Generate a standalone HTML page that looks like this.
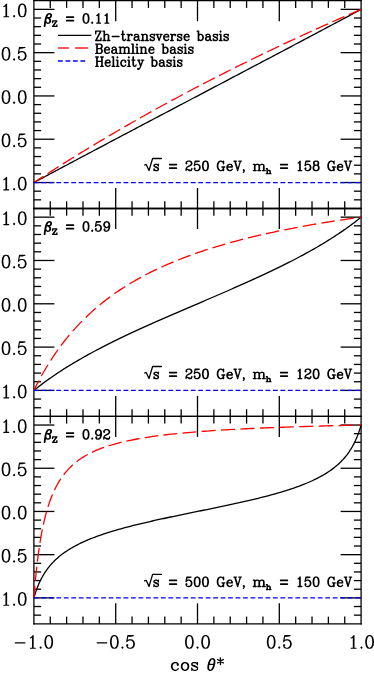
<!DOCTYPE html>
<html><head><meta charset="utf-8"><title>chart</title>
<style>html,body{margin:0;padding:0;background:#fff;font-family:"Liberation Sans",sans-serif;}svg{display:block}</style>
</head><body>
<svg width="374" height="674" viewBox="0 0 374 674">
<rect width="374" height="674" fill="#fff"/>
<line x1="33.25" y1="0.70" x2="361.75" y2="0.70" stroke="#000" stroke-width="1.3" />
<line x1="33.25" y1="208.50" x2="361.75" y2="208.50" stroke="#000" stroke-width="1.3" />
<line x1="33.25" y1="416.40" x2="361.75" y2="416.40" stroke="#000" stroke-width="1.3" />
<line x1="33.25" y1="623.80" x2="361.75" y2="623.80" stroke="#000" stroke-width="1.3" />
<line x1="33.25" y1="208.50" x2="361.75" y2="208.50" stroke="#000" stroke-width="1.3" />
<line x1="33.25" y1="416.40" x2="361.75" y2="416.40" stroke="#000" stroke-width="1.3" />
<line x1="33.90" y1="-0.30" x2="33.90" y2="624.45" stroke="#000" stroke-width="1.3" />
<line x1="361.10" y1="-0.30" x2="361.10" y2="624.45" stroke="#000" stroke-width="1.3" />
<line x1="50.26" y1="0.70" x2="50.26" y2="7.90" stroke="#000" stroke-width="1.3" />
<line x1="50.26" y1="201.30" x2="50.26" y2="215.70" stroke="#000" stroke-width="1.3" />
<line x1="50.26" y1="409.20" x2="50.26" y2="423.60" stroke="#000" stroke-width="1.3" />
<line x1="50.26" y1="616.60" x2="50.26" y2="623.80" stroke="#000" stroke-width="1.3" />
<line x1="66.62" y1="0.70" x2="66.62" y2="7.90" stroke="#000" stroke-width="1.3" />
<line x1="66.62" y1="201.30" x2="66.62" y2="215.70" stroke="#000" stroke-width="1.3" />
<line x1="66.62" y1="409.20" x2="66.62" y2="423.60" stroke="#000" stroke-width="1.3" />
<line x1="66.62" y1="616.60" x2="66.62" y2="623.80" stroke="#000" stroke-width="1.3" />
<line x1="82.98" y1="0.70" x2="82.98" y2="7.90" stroke="#000" stroke-width="1.3" />
<line x1="82.98" y1="201.30" x2="82.98" y2="215.70" stroke="#000" stroke-width="1.3" />
<line x1="82.98" y1="409.20" x2="82.98" y2="423.60" stroke="#000" stroke-width="1.3" />
<line x1="82.98" y1="616.60" x2="82.98" y2="623.80" stroke="#000" stroke-width="1.3" />
<line x1="99.34" y1="0.70" x2="99.34" y2="7.90" stroke="#000" stroke-width="1.3" />
<line x1="99.34" y1="201.30" x2="99.34" y2="215.70" stroke="#000" stroke-width="1.3" />
<line x1="99.34" y1="409.20" x2="99.34" y2="423.60" stroke="#000" stroke-width="1.3" />
<line x1="99.34" y1="616.60" x2="99.34" y2="623.80" stroke="#000" stroke-width="1.3" />
<line x1="115.70" y1="0.70" x2="115.70" y2="21.20" stroke="#000" stroke-width="1.3" />
<line x1="115.70" y1="188.00" x2="115.70" y2="229.00" stroke="#000" stroke-width="1.3" />
<line x1="115.70" y1="395.90" x2="115.70" y2="436.90" stroke="#000" stroke-width="1.3" />
<line x1="115.70" y1="603.30" x2="115.70" y2="623.80" stroke="#000" stroke-width="1.3" />
<line x1="132.06" y1="0.70" x2="132.06" y2="7.90" stroke="#000" stroke-width="1.3" />
<line x1="132.06" y1="201.30" x2="132.06" y2="215.70" stroke="#000" stroke-width="1.3" />
<line x1="132.06" y1="409.20" x2="132.06" y2="423.60" stroke="#000" stroke-width="1.3" />
<line x1="132.06" y1="616.60" x2="132.06" y2="623.80" stroke="#000" stroke-width="1.3" />
<line x1="148.42" y1="0.70" x2="148.42" y2="7.90" stroke="#000" stroke-width="1.3" />
<line x1="148.42" y1="201.30" x2="148.42" y2="215.70" stroke="#000" stroke-width="1.3" />
<line x1="148.42" y1="409.20" x2="148.42" y2="423.60" stroke="#000" stroke-width="1.3" />
<line x1="148.42" y1="616.60" x2="148.42" y2="623.80" stroke="#000" stroke-width="1.3" />
<line x1="164.78" y1="0.70" x2="164.78" y2="7.90" stroke="#000" stroke-width="1.3" />
<line x1="164.78" y1="201.30" x2="164.78" y2="215.70" stroke="#000" stroke-width="1.3" />
<line x1="164.78" y1="409.20" x2="164.78" y2="423.60" stroke="#000" stroke-width="1.3" />
<line x1="164.78" y1="616.60" x2="164.78" y2="623.80" stroke="#000" stroke-width="1.3" />
<line x1="181.14" y1="0.70" x2="181.14" y2="7.90" stroke="#000" stroke-width="1.3" />
<line x1="181.14" y1="201.30" x2="181.14" y2="215.70" stroke="#000" stroke-width="1.3" />
<line x1="181.14" y1="409.20" x2="181.14" y2="423.60" stroke="#000" stroke-width="1.3" />
<line x1="181.14" y1="616.60" x2="181.14" y2="623.80" stroke="#000" stroke-width="1.3" />
<line x1="197.50" y1="0.70" x2="197.50" y2="21.20" stroke="#000" stroke-width="1.3" />
<line x1="197.50" y1="188.00" x2="197.50" y2="229.00" stroke="#000" stroke-width="1.3" />
<line x1="197.50" y1="395.90" x2="197.50" y2="436.90" stroke="#000" stroke-width="1.3" />
<line x1="197.50" y1="603.30" x2="197.50" y2="623.80" stroke="#000" stroke-width="1.3" />
<line x1="213.86" y1="0.70" x2="213.86" y2="7.90" stroke="#000" stroke-width="1.3" />
<line x1="213.86" y1="201.30" x2="213.86" y2="215.70" stroke="#000" stroke-width="1.3" />
<line x1="213.86" y1="409.20" x2="213.86" y2="423.60" stroke="#000" stroke-width="1.3" />
<line x1="213.86" y1="616.60" x2="213.86" y2="623.80" stroke="#000" stroke-width="1.3" />
<line x1="230.22" y1="0.70" x2="230.22" y2="7.90" stroke="#000" stroke-width="1.3" />
<line x1="230.22" y1="201.30" x2="230.22" y2="215.70" stroke="#000" stroke-width="1.3" />
<line x1="230.22" y1="409.20" x2="230.22" y2="423.60" stroke="#000" stroke-width="1.3" />
<line x1="230.22" y1="616.60" x2="230.22" y2="623.80" stroke="#000" stroke-width="1.3" />
<line x1="246.58" y1="0.70" x2="246.58" y2="7.90" stroke="#000" stroke-width="1.3" />
<line x1="246.58" y1="201.30" x2="246.58" y2="215.70" stroke="#000" stroke-width="1.3" />
<line x1="246.58" y1="409.20" x2="246.58" y2="423.60" stroke="#000" stroke-width="1.3" />
<line x1="246.58" y1="616.60" x2="246.58" y2="623.80" stroke="#000" stroke-width="1.3" />
<line x1="262.94" y1="0.70" x2="262.94" y2="7.90" stroke="#000" stroke-width="1.3" />
<line x1="262.94" y1="201.30" x2="262.94" y2="215.70" stroke="#000" stroke-width="1.3" />
<line x1="262.94" y1="409.20" x2="262.94" y2="423.60" stroke="#000" stroke-width="1.3" />
<line x1="262.94" y1="616.60" x2="262.94" y2="623.80" stroke="#000" stroke-width="1.3" />
<line x1="279.30" y1="0.70" x2="279.30" y2="21.20" stroke="#000" stroke-width="1.3" />
<line x1="279.30" y1="188.00" x2="279.30" y2="229.00" stroke="#000" stroke-width="1.3" />
<line x1="279.30" y1="395.90" x2="279.30" y2="436.90" stroke="#000" stroke-width="1.3" />
<line x1="279.30" y1="603.30" x2="279.30" y2="623.80" stroke="#000" stroke-width="1.3" />
<line x1="295.66" y1="0.70" x2="295.66" y2="7.90" stroke="#000" stroke-width="1.3" />
<line x1="295.66" y1="201.30" x2="295.66" y2="215.70" stroke="#000" stroke-width="1.3" />
<line x1="295.66" y1="409.20" x2="295.66" y2="423.60" stroke="#000" stroke-width="1.3" />
<line x1="295.66" y1="616.60" x2="295.66" y2="623.80" stroke="#000" stroke-width="1.3" />
<line x1="312.02" y1="0.70" x2="312.02" y2="7.90" stroke="#000" stroke-width="1.3" />
<line x1="312.02" y1="201.30" x2="312.02" y2="215.70" stroke="#000" stroke-width="1.3" />
<line x1="312.02" y1="409.20" x2="312.02" y2="423.60" stroke="#000" stroke-width="1.3" />
<line x1="312.02" y1="616.60" x2="312.02" y2="623.80" stroke="#000" stroke-width="1.3" />
<line x1="328.38" y1="0.70" x2="328.38" y2="7.90" stroke="#000" stroke-width="1.3" />
<line x1="328.38" y1="201.30" x2="328.38" y2="215.70" stroke="#000" stroke-width="1.3" />
<line x1="328.38" y1="409.20" x2="328.38" y2="423.60" stroke="#000" stroke-width="1.3" />
<line x1="328.38" y1="616.60" x2="328.38" y2="623.80" stroke="#000" stroke-width="1.3" />
<line x1="344.74" y1="0.70" x2="344.74" y2="7.90" stroke="#000" stroke-width="1.3" />
<line x1="344.74" y1="201.30" x2="344.74" y2="215.70" stroke="#000" stroke-width="1.3" />
<line x1="344.74" y1="409.20" x2="344.74" y2="423.60" stroke="#000" stroke-width="1.3" />
<line x1="344.74" y1="616.60" x2="344.74" y2="623.80" stroke="#000" stroke-width="1.3" />
<line x1="33.90" y1="199.84" x2="41.10" y2="199.84" stroke="#000" stroke-width="1.3" />
<line x1="353.90" y1="199.84" x2="361.10" y2="199.84" stroke="#000" stroke-width="1.3" />
<line x1="33.90" y1="191.18" x2="41.10" y2="191.18" stroke="#000" stroke-width="1.3" />
<line x1="353.90" y1="191.18" x2="361.10" y2="191.18" stroke="#000" stroke-width="1.3" />
<line x1="33.90" y1="182.53" x2="54.40" y2="182.53" stroke="#000" stroke-width="1.3" />
<line x1="340.60" y1="182.53" x2="361.10" y2="182.53" stroke="#000" stroke-width="1.3" />
<line x1="33.90" y1="173.87" x2="41.10" y2="173.87" stroke="#000" stroke-width="1.3" />
<line x1="353.90" y1="173.87" x2="361.10" y2="173.87" stroke="#000" stroke-width="1.3" />
<line x1="33.90" y1="165.21" x2="41.10" y2="165.21" stroke="#000" stroke-width="1.3" />
<line x1="353.90" y1="165.21" x2="361.10" y2="165.21" stroke="#000" stroke-width="1.3" />
<line x1="33.90" y1="156.55" x2="41.10" y2="156.55" stroke="#000" stroke-width="1.3" />
<line x1="353.90" y1="156.55" x2="361.10" y2="156.55" stroke="#000" stroke-width="1.3" />
<line x1="33.90" y1="147.89" x2="41.10" y2="147.89" stroke="#000" stroke-width="1.3" />
<line x1="353.90" y1="147.89" x2="361.10" y2="147.89" stroke="#000" stroke-width="1.3" />
<line x1="33.90" y1="139.23" x2="54.40" y2="139.23" stroke="#000" stroke-width="1.3" />
<line x1="340.60" y1="139.23" x2="361.10" y2="139.23" stroke="#000" stroke-width="1.3" />
<line x1="33.90" y1="130.58" x2="41.10" y2="130.58" stroke="#000" stroke-width="1.3" />
<line x1="353.90" y1="130.58" x2="361.10" y2="130.58" stroke="#000" stroke-width="1.3" />
<line x1="33.90" y1="121.92" x2="41.10" y2="121.92" stroke="#000" stroke-width="1.3" />
<line x1="353.90" y1="121.92" x2="361.10" y2="121.92" stroke="#000" stroke-width="1.3" />
<line x1="33.90" y1="113.26" x2="41.10" y2="113.26" stroke="#000" stroke-width="1.3" />
<line x1="353.90" y1="113.26" x2="361.10" y2="113.26" stroke="#000" stroke-width="1.3" />
<line x1="33.90" y1="104.60" x2="41.10" y2="104.60" stroke="#000" stroke-width="1.3" />
<line x1="353.90" y1="104.60" x2="361.10" y2="104.60" stroke="#000" stroke-width="1.3" />
<line x1="33.90" y1="95.94" x2="54.40" y2="95.94" stroke="#000" stroke-width="1.3" />
<line x1="340.60" y1="95.94" x2="361.10" y2="95.94" stroke="#000" stroke-width="1.3" />
<line x1="33.90" y1="87.28" x2="41.10" y2="87.28" stroke="#000" stroke-width="1.3" />
<line x1="353.90" y1="87.28" x2="361.10" y2="87.28" stroke="#000" stroke-width="1.3" />
<line x1="33.90" y1="78.63" x2="41.10" y2="78.63" stroke="#000" stroke-width="1.3" />
<line x1="353.90" y1="78.63" x2="361.10" y2="78.63" stroke="#000" stroke-width="1.3" />
<line x1="33.90" y1="69.97" x2="41.10" y2="69.97" stroke="#000" stroke-width="1.3" />
<line x1="353.90" y1="69.97" x2="361.10" y2="69.97" stroke="#000" stroke-width="1.3" />
<line x1="33.90" y1="61.31" x2="41.10" y2="61.31" stroke="#000" stroke-width="1.3" />
<line x1="353.90" y1="61.31" x2="361.10" y2="61.31" stroke="#000" stroke-width="1.3" />
<line x1="33.90" y1="52.65" x2="54.40" y2="52.65" stroke="#000" stroke-width="1.3" />
<line x1="340.60" y1="52.65" x2="361.10" y2="52.65" stroke="#000" stroke-width="1.3" />
<line x1="33.90" y1="43.99" x2="41.10" y2="43.99" stroke="#000" stroke-width="1.3" />
<line x1="353.90" y1="43.99" x2="361.10" y2="43.99" stroke="#000" stroke-width="1.3" />
<line x1="33.90" y1="35.33" x2="41.10" y2="35.33" stroke="#000" stroke-width="1.3" />
<line x1="353.90" y1="35.33" x2="361.10" y2="35.33" stroke="#000" stroke-width="1.3" />
<line x1="33.90" y1="26.68" x2="41.10" y2="26.68" stroke="#000" stroke-width="1.3" />
<line x1="353.90" y1="26.68" x2="361.10" y2="26.68" stroke="#000" stroke-width="1.3" />
<line x1="33.90" y1="18.02" x2="41.10" y2="18.02" stroke="#000" stroke-width="1.3" />
<line x1="353.90" y1="18.02" x2="361.10" y2="18.02" stroke="#000" stroke-width="1.3" />
<line x1="33.90" y1="9.36" x2="54.40" y2="9.36" stroke="#000" stroke-width="1.3" />
<line x1="340.60" y1="9.36" x2="361.10" y2="9.36" stroke="#000" stroke-width="1.3" />
<line x1="33.90" y1="407.74" x2="41.10" y2="407.74" stroke="#000" stroke-width="1.3" />
<line x1="353.90" y1="407.74" x2="361.10" y2="407.74" stroke="#000" stroke-width="1.3" />
<line x1="33.90" y1="399.08" x2="41.10" y2="399.08" stroke="#000" stroke-width="1.3" />
<line x1="353.90" y1="399.08" x2="361.10" y2="399.08" stroke="#000" stroke-width="1.3" />
<line x1="33.90" y1="390.41" x2="54.40" y2="390.41" stroke="#000" stroke-width="1.3" />
<line x1="340.60" y1="390.41" x2="361.10" y2="390.41" stroke="#000" stroke-width="1.3" />
<line x1="33.90" y1="381.75" x2="41.10" y2="381.75" stroke="#000" stroke-width="1.3" />
<line x1="353.90" y1="381.75" x2="361.10" y2="381.75" stroke="#000" stroke-width="1.3" />
<line x1="33.90" y1="373.09" x2="41.10" y2="373.09" stroke="#000" stroke-width="1.3" />
<line x1="353.90" y1="373.09" x2="361.10" y2="373.09" stroke="#000" stroke-width="1.3" />
<line x1="33.90" y1="364.42" x2="41.10" y2="364.42" stroke="#000" stroke-width="1.3" />
<line x1="353.90" y1="364.42" x2="361.10" y2="364.42" stroke="#000" stroke-width="1.3" />
<line x1="33.90" y1="355.76" x2="41.10" y2="355.76" stroke="#000" stroke-width="1.3" />
<line x1="353.90" y1="355.76" x2="361.10" y2="355.76" stroke="#000" stroke-width="1.3" />
<line x1="33.90" y1="347.10" x2="54.40" y2="347.10" stroke="#000" stroke-width="1.3" />
<line x1="340.60" y1="347.10" x2="361.10" y2="347.10" stroke="#000" stroke-width="1.3" />
<line x1="33.90" y1="338.44" x2="41.10" y2="338.44" stroke="#000" stroke-width="1.3" />
<line x1="353.90" y1="338.44" x2="361.10" y2="338.44" stroke="#000" stroke-width="1.3" />
<line x1="33.90" y1="329.77" x2="41.10" y2="329.77" stroke="#000" stroke-width="1.3" />
<line x1="353.90" y1="329.77" x2="361.10" y2="329.77" stroke="#000" stroke-width="1.3" />
<line x1="33.90" y1="321.11" x2="41.10" y2="321.11" stroke="#000" stroke-width="1.3" />
<line x1="353.90" y1="321.11" x2="361.10" y2="321.11" stroke="#000" stroke-width="1.3" />
<line x1="33.90" y1="312.45" x2="41.10" y2="312.45" stroke="#000" stroke-width="1.3" />
<line x1="353.90" y1="312.45" x2="361.10" y2="312.45" stroke="#000" stroke-width="1.3" />
<line x1="33.90" y1="303.79" x2="54.40" y2="303.79" stroke="#000" stroke-width="1.3" />
<line x1="340.60" y1="303.79" x2="361.10" y2="303.79" stroke="#000" stroke-width="1.3" />
<line x1="33.90" y1="295.12" x2="41.10" y2="295.12" stroke="#000" stroke-width="1.3" />
<line x1="353.90" y1="295.12" x2="361.10" y2="295.12" stroke="#000" stroke-width="1.3" />
<line x1="33.90" y1="286.46" x2="41.10" y2="286.46" stroke="#000" stroke-width="1.3" />
<line x1="353.90" y1="286.46" x2="361.10" y2="286.46" stroke="#000" stroke-width="1.3" />
<line x1="33.90" y1="277.80" x2="41.10" y2="277.80" stroke="#000" stroke-width="1.3" />
<line x1="353.90" y1="277.80" x2="361.10" y2="277.80" stroke="#000" stroke-width="1.3" />
<line x1="33.90" y1="269.14" x2="41.10" y2="269.14" stroke="#000" stroke-width="1.3" />
<line x1="353.90" y1="269.14" x2="361.10" y2="269.14" stroke="#000" stroke-width="1.3" />
<line x1="33.90" y1="260.48" x2="54.40" y2="260.48" stroke="#000" stroke-width="1.3" />
<line x1="340.60" y1="260.48" x2="361.10" y2="260.48" stroke="#000" stroke-width="1.3" />
<line x1="33.90" y1="251.81" x2="41.10" y2="251.81" stroke="#000" stroke-width="1.3" />
<line x1="353.90" y1="251.81" x2="361.10" y2="251.81" stroke="#000" stroke-width="1.3" />
<line x1="33.90" y1="243.15" x2="41.10" y2="243.15" stroke="#000" stroke-width="1.3" />
<line x1="353.90" y1="243.15" x2="361.10" y2="243.15" stroke="#000" stroke-width="1.3" />
<line x1="33.90" y1="234.49" x2="41.10" y2="234.49" stroke="#000" stroke-width="1.3" />
<line x1="353.90" y1="234.49" x2="361.10" y2="234.49" stroke="#000" stroke-width="1.3" />
<line x1="33.90" y1="225.83" x2="41.10" y2="225.83" stroke="#000" stroke-width="1.3" />
<line x1="353.90" y1="225.83" x2="361.10" y2="225.83" stroke="#000" stroke-width="1.3" />
<line x1="33.90" y1="217.16" x2="54.40" y2="217.16" stroke="#000" stroke-width="1.3" />
<line x1="340.60" y1="217.16" x2="361.10" y2="217.16" stroke="#000" stroke-width="1.3" />
<line x1="33.90" y1="615.16" x2="41.10" y2="615.16" stroke="#000" stroke-width="1.3" />
<line x1="353.90" y1="615.16" x2="361.10" y2="615.16" stroke="#000" stroke-width="1.3" />
<line x1="33.90" y1="606.52" x2="41.10" y2="606.52" stroke="#000" stroke-width="1.3" />
<line x1="353.90" y1="606.52" x2="361.10" y2="606.52" stroke="#000" stroke-width="1.3" />
<line x1="33.90" y1="597.88" x2="54.40" y2="597.88" stroke="#000" stroke-width="1.3" />
<line x1="340.60" y1="597.88" x2="361.10" y2="597.88" stroke="#000" stroke-width="1.3" />
<line x1="33.90" y1="589.23" x2="41.10" y2="589.23" stroke="#000" stroke-width="1.3" />
<line x1="353.90" y1="589.23" x2="361.10" y2="589.23" stroke="#000" stroke-width="1.3" />
<line x1="33.90" y1="580.59" x2="41.10" y2="580.59" stroke="#000" stroke-width="1.3" />
<line x1="353.90" y1="580.59" x2="361.10" y2="580.59" stroke="#000" stroke-width="1.3" />
<line x1="33.90" y1="571.95" x2="41.10" y2="571.95" stroke="#000" stroke-width="1.3" />
<line x1="353.90" y1="571.95" x2="361.10" y2="571.95" stroke="#000" stroke-width="1.3" />
<line x1="33.90" y1="563.31" x2="41.10" y2="563.31" stroke="#000" stroke-width="1.3" />
<line x1="353.90" y1="563.31" x2="361.10" y2="563.31" stroke="#000" stroke-width="1.3" />
<line x1="33.90" y1="554.67" x2="54.40" y2="554.67" stroke="#000" stroke-width="1.3" />
<line x1="340.60" y1="554.67" x2="361.10" y2="554.67" stroke="#000" stroke-width="1.3" />
<line x1="33.90" y1="546.02" x2="41.10" y2="546.02" stroke="#000" stroke-width="1.3" />
<line x1="353.90" y1="546.02" x2="361.10" y2="546.02" stroke="#000" stroke-width="1.3" />
<line x1="33.90" y1="537.38" x2="41.10" y2="537.38" stroke="#000" stroke-width="1.3" />
<line x1="353.90" y1="537.38" x2="361.10" y2="537.38" stroke="#000" stroke-width="1.3" />
<line x1="33.90" y1="528.74" x2="41.10" y2="528.74" stroke="#000" stroke-width="1.3" />
<line x1="353.90" y1="528.74" x2="361.10" y2="528.74" stroke="#000" stroke-width="1.3" />
<line x1="33.90" y1="520.10" x2="41.10" y2="520.10" stroke="#000" stroke-width="1.3" />
<line x1="353.90" y1="520.10" x2="361.10" y2="520.10" stroke="#000" stroke-width="1.3" />
<line x1="33.90" y1="511.46" x2="54.40" y2="511.46" stroke="#000" stroke-width="1.3" />
<line x1="340.60" y1="511.46" x2="361.10" y2="511.46" stroke="#000" stroke-width="1.3" />
<line x1="33.90" y1="502.82" x2="41.10" y2="502.82" stroke="#000" stroke-width="1.3" />
<line x1="353.90" y1="502.82" x2="361.10" y2="502.82" stroke="#000" stroke-width="1.3" />
<line x1="33.90" y1="494.17" x2="41.10" y2="494.17" stroke="#000" stroke-width="1.3" />
<line x1="353.90" y1="494.17" x2="361.10" y2="494.17" stroke="#000" stroke-width="1.3" />
<line x1="33.90" y1="485.53" x2="41.10" y2="485.53" stroke="#000" stroke-width="1.3" />
<line x1="353.90" y1="485.53" x2="361.10" y2="485.53" stroke="#000" stroke-width="1.3" />
<line x1="33.90" y1="476.89" x2="41.10" y2="476.89" stroke="#000" stroke-width="1.3" />
<line x1="353.90" y1="476.89" x2="361.10" y2="476.89" stroke="#000" stroke-width="1.3" />
<line x1="33.90" y1="468.25" x2="54.40" y2="468.25" stroke="#000" stroke-width="1.3" />
<line x1="340.60" y1="468.25" x2="361.10" y2="468.25" stroke="#000" stroke-width="1.3" />
<line x1="33.90" y1="459.61" x2="41.10" y2="459.61" stroke="#000" stroke-width="1.3" />
<line x1="353.90" y1="459.61" x2="361.10" y2="459.61" stroke="#000" stroke-width="1.3" />
<line x1="33.90" y1="450.97" x2="41.10" y2="450.97" stroke="#000" stroke-width="1.3" />
<line x1="353.90" y1="450.97" x2="361.10" y2="450.97" stroke="#000" stroke-width="1.3" />
<line x1="33.90" y1="442.32" x2="41.10" y2="442.32" stroke="#000" stroke-width="1.3" />
<line x1="353.90" y1="442.32" x2="361.10" y2="442.32" stroke="#000" stroke-width="1.3" />
<line x1="33.90" y1="433.68" x2="41.10" y2="433.68" stroke="#000" stroke-width="1.3" />
<line x1="353.90" y1="433.68" x2="361.10" y2="433.68" stroke="#000" stroke-width="1.3" />
<line x1="33.90" y1="425.04" x2="54.40" y2="425.04" stroke="#000" stroke-width="1.3" />
<line x1="340.60" y1="425.04" x2="361.10" y2="425.04" stroke="#000" stroke-width="1.3" />
<path d="M33.90,182.53 L33.92,182.52 L33.97,182.49 L34.05,182.44 L34.17,182.38 L34.32,182.30 L34.51,182.20 L34.72,182.08 L34.98,181.95 L35.26,181.80 L35.58,181.63 L35.93,181.44 L36.32,181.23 L36.74,181.01 L37.19,180.77 L37.67,180.51 L38.19,180.23 L38.74,179.94 L39.32,179.62 L39.94,179.29 L40.59,178.95 L41.27,178.58 L41.98,178.20 L42.72,177.81 L43.50,177.39 L44.31,176.96 L45.15,176.51 L46.02,176.05 L46.92,175.57 L47.85,175.07 L48.82,174.55 L49.81,174.02 L50.84,173.48 L51.89,172.91 L52.98,172.33 L54.09,171.74 L55.24,171.13 L56.41,170.50 L57.61,169.86 L58.84,169.21 L60.10,168.54 L61.39,167.85 L62.71,167.15 L64.05,166.44 L65.42,165.71 L66.82,164.96 L68.25,164.20 L69.70,163.43 L71.18,162.65 L72.68,161.85 L74.21,161.03 L75.76,160.21 L77.34,159.37 L78.95,158.52 L80.58,157.65 L82.23,156.77 L83.91,155.88 L85.61,154.98 L87.33,154.07 L89.08,153.14 L90.85,152.20 L92.64,151.25 L94.45,150.29 L96.29,149.32 L98.14,148.34 L100.01,147.35 L101.91,146.35 L103.82,145.33 L105.76,144.31 L107.71,143.28 L109.68,142.23 L111.67,141.18 L113.68,140.12 L115.70,139.05 L117.74,137.97 L119.80,136.89 L121.87,135.79 L123.96,134.69 L126.06,133.58 L128.18,132.46 L130.32,131.33 L132.46,130.20 L134.62,129.06 L136.80,127.91 L138.98,126.76 L141.18,125.60 L143.39,124.44 L145.61,123.27 L147.84,122.09 L150.08,120.91 L152.33,119.72 L154.59,118.53 L156.86,117.34 L159.14,116.14 L161.42,114.93 L163.72,113.73 L166.01,112.51 L168.32,111.30 L170.63,110.08 L172.95,108.86 L175.27,107.64 L177.60,106.41 L179.93,105.19 L182.27,103.96 L184.61,102.73 L186.95,101.50 L189.29,100.26 L191.63,99.03 L193.98,97.79 L196.33,96.56 L198.67,95.32 L201.02,94.09 L203.37,92.85 L205.71,91.62 L208.05,90.39 L210.39,89.16 L212.73,87.92 L215.07,86.70 L217.40,85.47 L219.73,84.24 L222.05,83.02 L224.37,81.80 L226.68,80.58 L228.99,79.37 L231.28,78.16 L233.58,76.95 L235.86,75.75 L238.14,74.55 L240.41,73.35 L242.67,72.16 L244.92,70.97 L247.16,69.79 L249.39,68.62 L251.61,67.45 L253.82,66.28 L256.02,65.12 L258.20,63.97 L260.38,62.82 L262.54,61.68 L264.68,60.55 L266.82,59.42 L268.94,58.31 L271.04,57.20 L273.13,56.09 L275.20,55.00 L277.26,53.91 L279.30,52.83 L281.32,51.76 L283.33,50.70 L285.32,49.65 L287.29,48.61 L289.24,47.57 L291.18,46.55 L293.09,45.54 L294.99,44.54 L296.86,43.54 L298.71,42.56 L300.55,41.59 L302.36,40.63 L304.15,39.68 L305.92,38.74 L307.67,37.82 L309.39,36.90 L311.09,36.00 L312.77,35.11 L314.42,34.23 L316.05,33.37 L317.66,32.52 L319.24,31.68 L320.79,30.85 L322.32,30.04 L323.82,29.24 L325.30,28.45 L326.75,27.68 L328.18,26.92 L329.58,26.18 L330.95,25.45 L332.29,24.73 L333.61,24.03 L334.90,23.35 L336.16,22.68 L337.39,22.02 L338.59,21.38 L339.76,20.75 L340.91,20.14 L342.02,19.55 L343.11,18.97 L344.16,18.41 L345.19,17.86 L346.18,17.33 L347.15,16.82 L348.08,16.32 L348.98,15.84 L349.85,15.37 L350.69,14.92 L351.50,14.49 L352.28,14.08 L353.02,13.68 L353.73,13.30 L354.41,12.93 L355.06,12.59 L355.68,12.26 L356.26,11.95 L356.81,11.65 L357.33,11.38 L357.81,11.12 L358.26,10.88 L358.68,10.65 L359.07,10.45 L359.42,10.26 L359.74,10.09 L360.02,9.93 L360.28,9.80 L360.49,9.68 L360.68,9.58 L360.83,9.50 L360.95,9.44 L361.03,9.39 L361.08,9.37 L361.10,9.36" fill="none" stroke="#000" stroke-width="1.3" stroke-linejoin="round"/>
<path d="M33.90,182.53 L35.80,181.29 L37.69,180.05 L39.59,178.82 L41.49,177.59 L43.39,176.36 M47.51,173.70 L49.73,172.29 L51.94,170.87 L54.15,169.46 L56.37,168.06 L58.59,166.65 M62.73,164.04 L64.96,162.65 L67.18,161.26 L69.41,159.87 L71.64,158.49 L73.87,157.11 M78.03,154.54 L80.27,153.17 L82.50,151.80 L84.74,150.44 L86.98,149.08 L89.22,147.72 M93.41,145.19 L95.66,143.85 L97.90,142.50 L100.15,141.16 L102.40,139.82 L104.65,138.48 M108.86,136.00 L111.12,134.67 L113.38,133.35 L115.64,132.03 L117.90,130.71 L120.16,129.40 M124.39,126.95 L126.66,125.65 L128.93,124.35 L131.20,123.05 L133.47,121.75 L135.74,120.46 M139.99,118.05 L142.27,116.77 L144.55,115.49 L146.83,114.21 L149.11,112.94 L151.39,111.66 M155.66,109.30 L157.95,108.04 L160.24,106.78 L162.53,105.52 L164.82,104.26 L167.12,103.01 M171.41,100.69 L173.70,99.44 L176.00,98.20 L178.31,96.97 L180.61,95.73 L182.91,94.50 M187.22,92.21 L189.53,90.99 L191.84,89.77 L194.15,88.55 L196.46,87.34 L198.78,86.13 M203.10,83.87 L205.42,82.67 L207.74,81.47 L210.06,80.27 L212.38,79.08 L214.71,77.89 M219.05,75.67 L221.38,74.49 L223.71,73.31 L226.04,72.13 L228.37,70.96 L230.70,69.78 M235.06,67.60 L237.40,66.44 L239.74,65.28 L242.08,64.12 L244.42,62.96 L246.77,61.81 M251.14,59.66 L253.49,58.52 L255.84,57.37 L258.19,56.23 L260.54,55.09 L262.89,53.96 M267.29,51.85 L269.64,50.72 L272.00,49.60 L274.36,48.47 L276.72,47.35 L279.08,46.24 M283.49,44.16 L285.86,43.05 L288.22,41.94 L290.59,40.84 L292.96,39.74 L295.33,38.64 M299.76,36.59 L302.13,35.50 L304.51,34.41 L306.89,33.33 L309.26,32.24 L311.64,31.16 M316.09,29.15 L318.47,28.07 L320.85,27.00 L323.24,25.93 L325.63,24.87 L328.01,23.80 M332.47,21.82 L334.86,20.76 L337.26,19.71 L339.65,18.66 L342.05,17.61 L344.44,16.56 M348.92,14.61 L351.32,13.57 L353.72,12.53 L356.12,11.50 L358.52,10.46 L360.93,9.43" fill="none" stroke="#f00" stroke-width="1.3" stroke-linejoin="round"/>
<path d="M33.90,390.41 L33.92,390.40 L33.97,390.36 L34.05,390.29 L34.17,390.19 L34.32,390.07 L34.51,389.92 L34.72,389.75 L34.98,389.54 L35.26,389.32 L35.58,389.06 L35.93,388.78 L36.32,388.47 L36.74,388.14 L37.19,387.79 L37.67,387.41 L38.19,387.00 L38.74,386.58 L39.32,386.13 L39.94,385.65 L40.59,385.16 L41.27,384.64 L41.98,384.11 L42.72,383.55 L43.50,382.97 L44.31,382.37 L45.15,381.75 L46.02,381.12 L46.92,380.47 L47.85,379.80 L48.82,379.11 L49.81,378.41 L50.84,377.69 L51.89,376.95 L52.98,376.21 L54.09,375.44 L55.24,374.67 L56.41,373.88 L57.61,373.08 L58.84,372.26 L60.10,371.44 L61.39,370.60 L62.71,369.76 L64.05,368.90 L65.42,368.03 L66.82,367.16 L68.25,366.28 L69.70,365.38 L71.18,364.48 L72.68,363.58 L74.21,362.66 L75.76,361.74 L77.34,360.82 L78.95,359.88 L80.58,358.94 L82.23,358.00 L83.91,357.05 L85.61,356.10 L87.33,355.14 L89.08,354.18 L90.85,353.21 L92.64,352.24 L94.45,351.27 L96.29,350.30 L98.14,349.32 L100.01,348.34 L101.91,347.35 L103.82,346.37 L105.76,345.38 L107.71,344.39 L109.68,343.40 L111.67,342.41 L113.68,341.41 L115.70,340.42 L117.74,339.42 L119.80,338.42 L121.87,337.42 L123.96,336.42 L126.06,335.42 L128.18,334.42 L130.32,333.42 L132.46,332.41 L134.62,331.41 L136.80,330.41 L138.98,329.40 L141.18,328.40 L143.39,327.40 L145.61,326.39 L147.84,325.39 L150.08,324.38 L152.33,323.38 L154.59,322.37 L156.86,321.37 L159.14,320.36 L161.42,319.36 L163.72,318.35 L166.01,317.35 L168.32,316.34 L170.63,315.34 L172.95,314.33 L175.27,313.33 L177.60,312.32 L179.93,311.32 L182.27,310.32 L184.61,309.31 L186.95,308.31 L189.29,307.30 L191.63,306.30 L193.98,305.29 L196.33,304.29 L198.67,303.29 L201.02,302.28 L203.37,301.28 L205.71,300.27 L208.05,299.27 L210.39,298.26 L212.73,297.26 L215.07,296.25 L217.40,295.25 L219.73,294.25 L222.05,293.24 L224.37,292.24 L226.68,291.23 L228.99,290.23 L231.28,289.22 L233.58,288.22 L235.86,287.21 L238.14,286.21 L240.41,285.20 L242.67,284.20 L244.92,283.19 L247.16,282.19 L249.39,281.18 L251.61,280.18 L253.82,279.18 L256.02,278.17 L258.20,277.17 L260.38,276.16 L262.54,275.16 L264.68,274.16 L266.82,273.16 L268.94,272.15 L271.04,271.15 L273.13,270.15 L275.20,269.15 L277.26,268.16 L279.30,267.16 L281.32,266.16 L283.33,265.17 L285.32,264.18 L287.29,263.18 L289.24,262.19 L291.18,261.21 L293.09,260.22 L294.99,259.24 L296.86,258.26 L298.71,257.28 L300.55,256.30 L302.36,255.33 L304.15,254.36 L305.92,253.40 L307.67,252.43 L309.39,251.48 L311.09,250.52 L312.77,249.57 L314.42,248.63 L316.05,247.69 L317.66,246.76 L319.24,245.83 L320.79,244.91 L322.32,244.00 L323.82,243.09 L325.30,242.19 L326.75,241.30 L328.18,240.42 L329.58,239.54 L330.95,238.68 L332.29,237.82 L333.61,236.97 L334.90,236.14 L336.16,235.31 L337.39,234.50 L338.59,233.70 L339.76,232.91 L340.91,232.13 L342.02,231.37 L343.11,230.62 L344.16,229.89 L345.19,229.17 L346.18,228.47 L347.15,227.78 L348.08,227.11 L348.98,226.46 L349.85,225.82 L350.69,225.20 L351.50,224.61 L352.28,224.03 L353.02,223.47 L353.73,222.93 L354.41,222.42 L355.06,221.92 L355.68,221.45 L356.26,221.00 L356.81,220.57 L357.33,220.17 L357.81,219.79 L358.26,219.43 L358.68,219.10 L359.07,218.79 L359.42,218.51 L359.74,218.26 L360.02,218.03 L360.28,217.83 L360.49,217.65 L360.68,217.50 L360.83,217.38 L360.95,217.29 L361.03,217.22 L361.08,217.18 L361.10,217.16" fill="none" stroke="#000" stroke-width="1.3" stroke-linejoin="round"/>
<path d="M33.90,390.41 L34.89,388.41 L35.89,386.41 L36.91,384.42 L37.94,382.43 L38.98,380.45 M41.38,376.05 L42.65,373.77 L43.95,371.50 L45.27,369.24 L46.62,366.99 L47.98,364.75 M50.66,360.49 L52.09,358.29 L53.55,356.10 L55.03,353.92 L56.53,351.75 L58.06,349.59 M61.07,345.50 L62.67,343.38 L64.30,341.27 L65.96,339.18 L67.64,337.10 L69.35,335.04 M72.72,331.12 L74.51,329.10 L76.33,327.09 L78.19,325.10 L80.07,323.12 L81.99,321.16 M85.73,317.45 L87.70,315.56 L89.69,313.70 L91.70,311.87 L93.72,310.07 L95.75,308.30 M99.69,304.98 L101.77,303.29 L103.86,301.62 L105.96,299.99 L108.07,298.38 L110.20,296.80 M114.32,293.83 L116.49,292.32 L118.66,290.84 L120.85,289.38 L123.06,287.94 L125.27,286.53 M129.55,283.88 L131.79,282.53 L134.05,281.21 L136.32,279.91 L138.60,278.62 L140.89,277.36 M145.30,275.00 L147.62,273.79 L149.95,272.61 L152.29,271.45 L154.63,270.30 L156.99,269.17 M161.53,267.06 L163.92,265.98 L166.31,264.92 L168.70,263.88 L171.11,262.85 L173.53,261.84 M178.18,259.95 L180.62,258.99 L183.06,258.04 L185.52,257.10 L187.98,256.18 L190.44,255.27 M195.19,253.57 L197.68,252.71 L200.17,251.85 L202.67,251.01 L205.18,250.19 L207.69,249.37 M212.53,247.84 L215.05,247.06 L217.59,246.29 L220.13,245.53 L222.68,244.79 L225.23,244.05 M230.14,242.67 L232.71,241.96 L235.28,241.27 L237.86,240.58 L240.44,239.91 L243.03,239.24 M248.00,237.99 L250.60,237.35 L253.21,236.72 L255.82,236.10 L258.43,235.49 L261.05,234.88 M266.08,233.75 L268.71,233.17 L271.34,232.60 L273.98,232.03 L276.62,231.47 L279.27,230.92 M284.35,229.89 L287.00,229.36 L289.66,228.84 L292.33,228.32 L294.99,227.81 L297.66,227.31 M302.79,226.37 L305.47,225.88 L308.15,225.40 L310.83,224.93 L313.52,224.47 L316.21,224.01 M321.38,223.14 L324.07,222.70 L326.78,222.26 L329.48,221.83 L332.19,221.40 L334.89,220.98 M340.10,220.18 L342.81,219.78 L345.53,219.37 L348.25,218.98 L350.98,218.58 L353.70,218.19 M358.94,217.46 L361.10,217.16" fill="none" stroke="#f00" stroke-width="1.3" stroke-linejoin="round"/>
<path d="M33.90,597.88 L33.92,597.82 L33.97,597.64 L34.05,597.34 L34.17,596.94 L34.32,596.42 L34.51,595.80 L34.72,595.08 L34.98,594.27 L35.26,593.38 L35.58,592.41 L35.93,591.37 L36.32,590.27 L36.74,589.12 L37.19,587.92 L37.67,586.68 L38.19,585.42 L38.74,584.12 L39.32,582.81 L39.94,581.49 L40.59,580.15 L41.27,578.82 L41.98,577.48 L42.72,576.14 L43.50,574.82 L44.31,573.50 L45.15,572.19 L46.02,570.90 L46.92,569.62 L47.85,568.36 L48.82,567.12 L49.81,565.90 L50.84,564.70 L51.89,563.51 L52.98,562.35 L54.09,561.21 L55.24,560.09 L56.41,558.99 L57.61,557.91 L58.84,556.85 L60.10,555.81 L61.39,554.80 L62.71,553.80 L64.05,552.82 L65.42,551.86 L66.82,550.92 L68.25,549.99 L69.70,549.09 L71.18,548.20 L72.68,547.33 L74.21,546.47 L75.76,545.63 L77.34,544.81 L78.95,544.00 L80.58,543.20 L82.23,542.42 L83.91,541.66 L85.61,540.90 L87.33,540.16 L89.08,539.43 L90.85,538.71 L92.64,538.00 L94.45,537.31 L96.29,536.62 L98.14,535.95 L100.01,535.28 L101.91,534.63 L103.82,533.98 L105.76,533.35 L107.71,532.72 L109.68,532.10 L111.67,531.48 L113.68,530.88 L115.70,530.28 L117.74,529.69 L119.80,529.11 L121.87,528.53 L123.96,527.96 L126.06,527.39 L128.18,526.84 L130.32,526.28 L132.46,525.73 L134.62,525.19 L136.80,524.65 L138.98,524.12 L141.18,523.59 L143.39,523.06 L145.61,522.54 L147.84,522.02 L150.08,521.51 L152.33,521.00 L154.59,520.49 L156.86,519.98 L159.14,519.48 L161.42,518.98 L163.72,518.49 L166.01,517.99 L168.32,517.50 L170.63,517.01 L172.95,516.52 L175.27,516.03 L177.60,515.55 L179.93,515.06 L182.27,514.58 L184.61,514.10 L186.95,513.62 L189.29,513.14 L191.63,512.66 L193.98,512.18 L196.33,511.70 L198.67,511.22 L201.02,510.74 L203.37,510.26 L205.71,509.78 L208.05,509.30 L210.39,508.82 L212.73,508.34 L215.07,507.85 L217.40,507.37 L219.73,506.88 L222.05,506.40 L224.37,505.91 L226.68,505.42 L228.99,504.93 L231.28,504.43 L233.58,503.93 L235.86,503.44 L238.14,502.93 L240.41,502.43 L242.67,501.92 L244.92,501.41 L247.16,500.90 L249.39,500.38 L251.61,499.86 L253.82,499.33 L256.02,498.80 L258.20,498.27 L260.38,497.73 L262.54,497.18 L264.68,496.64 L266.82,496.08 L268.94,495.52 L271.04,494.96 L273.13,494.39 L275.20,493.81 L277.26,493.22 L279.30,492.63 L281.32,492.04 L283.33,491.43 L285.32,490.82 L287.29,490.20 L289.24,489.57 L291.18,488.93 L293.09,488.29 L294.99,487.63 L296.86,486.97 L298.71,486.29 L300.55,485.61 L302.36,484.91 L304.15,484.21 L305.92,483.49 L307.67,482.76 L309.39,482.02 L311.09,481.26 L312.77,480.49 L314.42,479.71 L316.05,478.92 L317.66,478.11 L319.24,477.28 L320.79,476.44 L322.32,475.59 L323.82,474.72 L325.30,473.83 L326.75,472.92 L328.18,472.00 L329.58,471.06 L330.95,470.10 L332.29,469.12 L333.61,468.12 L334.90,467.10 L336.16,466.06 L337.39,465.01 L338.59,463.93 L339.76,462.83 L340.91,461.71 L342.02,460.56 L343.11,459.40 L344.16,458.22 L345.19,457.02 L346.18,455.79 L347.15,454.55 L348.08,453.29 L348.98,452.02 L349.85,450.72 L350.69,449.42 L351.50,448.10 L352.28,446.77 L353.02,445.44 L353.73,444.10 L354.41,442.76 L355.06,441.43 L355.68,440.10 L356.26,438.79 L356.81,437.50 L357.33,436.23 L357.81,435.00 L358.26,433.80 L358.68,432.65 L359.07,431.55 L359.42,430.51 L359.74,429.54 L360.02,428.64 L360.28,427.84 L360.49,427.12 L360.68,426.50 L360.83,425.98 L360.95,425.57 L361.03,425.28 L361.08,425.10 L361.10,425.04" fill="none" stroke="#000" stroke-width="1.3" stroke-linejoin="round"/>
<path d="M33.90,597.88 L34.09,595.45 L34.28,593.03 L34.48,590.61 L34.68,588.19 L34.89,585.77 M35.36,580.61 L35.63,577.82 L35.90,575.04 L36.19,572.26 L36.48,569.49 L36.78,566.72 M37.38,561.61 L37.71,558.86 L38.06,556.12 L38.42,553.38 L38.80,550.65 L39.19,547.92 M39.96,542.90 L40.40,540.20 L40.85,537.51 L41.33,534.83 L41.82,532.16 L42.34,529.49 M43.36,524.60 L43.94,521.98 L44.56,519.36 L45.20,516.76 L45.87,514.18 L46.57,511.61 M47.97,506.91 L48.78,504.39 L49.63,501.90 L50.52,499.43 L51.46,496.98 L52.45,494.55 M54.43,490.14 L55.58,487.79 L56.79,485.48 L58.07,483.20 L59.41,480.95 L60.84,478.74 M63.68,474.77 L65.34,472.67 L67.09,470.63 L68.93,468.63 L70.87,466.69 L72.87,464.84 M76.68,461.67 L78.80,460.08 L80.97,458.57 L83.18,457.14 L85.42,455.79 L87.70,454.51 M92.00,452.31 L94.37,451.21 L96.77,450.16 L99.19,449.17 L101.64,448.22 L104.11,447.33 M108.74,445.78 L111.27,445.00 L113.82,444.26 L116.39,443.56 L118.97,442.88 L121.57,442.24 M126.41,441.12 L129.05,440.56 L131.70,440.02 L134.36,439.50 L137.03,439.00 L139.71,438.53 M144.69,437.69 L147.40,437.27 L150.12,436.86 L152.84,436.47 L155.57,436.09 L158.31,435.73 M163.39,435.09 L166.15,434.77 L168.91,434.45 L171.68,434.15 L174.45,433.85 L177.23,433.57 M182.38,433.06 L185.17,432.81 L187.96,432.56 L190.76,432.31 L193.57,432.08 L196.37,431.85 M201.57,431.45 L204.39,431.24 L207.20,431.03 L210.03,430.84 L212.85,430.64 L215.68,430.46 M220.91,430.13 L223.74,429.96 L226.58,429.79 L229.42,429.62 L232.26,429.47 L235.10,429.31 M240.36,429.03 L243.21,428.89 L246.06,428.75 L248.91,428.61 L251.77,428.48 L254.62,428.35 M259.90,428.12 L262.76,427.99 L265.62,427.87 L268.49,427.76 L271.35,427.64 L274.21,427.53 M279.51,427.33 L282.38,427.23 L285.25,427.13 L288.12,427.03 L290.99,426.93 L293.86,426.83 M299.18,426.66 L302.05,426.57 L304.93,426.48 L307.80,426.39 L310.68,426.31 L313.56,426.22 M318.88,426.07 L321.76,425.99 L324.64,425.91 L327.53,425.84 L330.41,425.76 L333.29,425.69 M338.62,425.56 L341.51,425.49 L344.40,425.42 L347.28,425.35 L350.17,425.28 L353.06,425.22 M358.40,425.10 L361.10,425.04" fill="none" stroke="#f00" stroke-width="1.3" stroke-linejoin="round"/>
<line x1="33.90" y1="182.53" x2="361.10" y2="182.53" stroke="#00f" stroke-width="1.3" stroke-dasharray="4.8 2.67" stroke-dashoffset="0"/>
<line x1="33.90" y1="390.41" x2="361.10" y2="390.41" stroke="#00f" stroke-width="1.3" stroke-dasharray="4.8 2.67" stroke-dashoffset="0"/>
<line x1="33.90" y1="597.88" x2="361.10" y2="597.88" stroke="#00f" stroke-width="1.3" stroke-dasharray="4.8 2.67" stroke-dashoffset="0"/>
<line x1="58.00" y1="35.40" x2="91.30" y2="35.40" stroke="#000" stroke-width="1.3" />
<line x1="58.00" y1="48.00" x2="68.90" y2="48.00" stroke="#f00" stroke-width="1.3" />
<line x1="75.00" y1="48.00" x2="88.00" y2="48.00" stroke="#f00" stroke-width="1.3" />
<line x1="58" y1="61" x2="86.2" y2="61" stroke="#00f" stroke-width="1.3" stroke-dasharray="4.8 2.67"/>
<path d="M15.27,642.80 L24.99,642.80 M30.39,638.00 L31.47,637.40 L33.09,635.60 L33.09,648.20 M32.55,636.20 L32.55,648.20 M30.39,648.20 L35.25,648.20 M40.65,647.00 L40.11,647.60 L40.65,648.20 L41.19,647.60 L40.65,647.00 M48.21,635.60 L46.59,636.20 L45.51,638.00 L44.97,641.00 L44.97,642.80 L45.51,645.80 L46.59,647.60 L48.21,648.20 L49.29,648.20 L50.91,647.60 L51.99,645.80 L52.53,642.80 L52.53,641.00 L51.99,638.00 L50.91,636.20 L49.29,635.60 L48.21,635.60 M48.21,635.60 L47.13,636.20 L46.59,636.80 L46.05,638.00 L45.51,641.00 L45.51,642.80 L46.05,645.80 L46.59,647.00 L47.13,647.60 L48.21,648.20 M49.29,648.20 L50.37,647.60 L50.91,647.00 L51.45,645.80 L51.99,642.80 L51.99,641.00 L51.45,638.00 L50.91,636.80 L50.37,636.20 L49.29,635.60" fill="none" stroke="#000" stroke-width="1.15" stroke-linecap="round" stroke-linejoin="round"/>
<path d="M97.07,642.80 L106.79,642.80 M113.81,635.60 L112.19,636.20 L111.11,638.00 L110.57,641.00 L110.57,642.80 L111.11,645.80 L112.19,647.60 L113.81,648.20 L114.89,648.20 L116.51,647.60 L117.59,645.80 L118.13,642.80 L118.13,641.00 L117.59,638.00 L116.51,636.20 L114.89,635.60 L113.81,635.60 M113.81,635.60 L112.73,636.20 L112.19,636.80 L111.65,638.00 L111.11,641.00 L111.11,642.80 L111.65,645.80 L112.19,647.00 L112.73,647.60 L113.81,648.20 M114.89,648.20 L115.97,647.60 L116.51,647.00 L117.05,645.80 L117.59,642.80 L117.59,641.00 L117.05,638.00 L116.51,636.80 L115.97,636.20 L114.89,635.60 M122.45,647.00 L121.91,647.60 L122.45,648.20 L122.99,647.60 L122.45,647.00 M127.85,635.60 L126.77,641.60 M126.77,641.60 L127.85,640.40 L129.47,639.80 L131.09,639.80 L132.71,640.40 L133.79,641.60 L134.33,643.40 L134.33,644.60 L133.79,646.40 L132.71,647.60 L131.09,648.20 L129.47,648.20 L127.85,647.60 L127.31,647.00 L126.77,645.80 L126.77,645.20 L127.31,644.60 L127.85,645.20 L127.31,645.80 M131.09,639.80 L132.17,640.40 L133.25,641.60 L133.79,643.40 L133.79,644.60 L133.25,646.40 L132.17,647.60 L131.09,648.20 M127.85,635.60 L133.25,635.60 M127.85,636.20 L130.55,636.20 L133.25,635.60" fill="none" stroke="#000" stroke-width="1.15" stroke-linecap="round" stroke-linejoin="round"/>
<path d="M188.86,635.60 L187.24,636.20 L186.16,638.00 L185.62,641.00 L185.62,642.80 L186.16,645.80 L187.24,647.60 L188.86,648.20 L189.94,648.20 L191.56,647.60 L192.64,645.80 L193.18,642.80 L193.18,641.00 L192.64,638.00 L191.56,636.20 L189.94,635.60 L188.86,635.60 M188.86,635.60 L187.78,636.20 L187.24,636.80 L186.70,638.00 L186.16,641.00 L186.16,642.80 L186.70,645.80 L187.24,647.00 L187.78,647.60 L188.86,648.20 M189.94,648.20 L191.02,647.60 L191.56,647.00 L192.10,645.80 L192.64,642.80 L192.64,641.00 L192.10,638.00 L191.56,636.80 L191.02,636.20 L189.94,635.60 M197.50,647.00 L196.96,647.60 L197.50,648.20 L198.04,647.60 L197.50,647.00 M205.06,635.60 L203.44,636.20 L202.36,638.00 L201.82,641.00 L201.82,642.80 L202.36,645.80 L203.44,647.60 L205.06,648.20 L206.14,648.20 L207.76,647.60 L208.84,645.80 L209.38,642.80 L209.38,641.00 L208.84,638.00 L207.76,636.20 L206.14,635.60 L205.06,635.60 M205.06,635.60 L203.98,636.20 L203.44,636.80 L202.90,638.00 L202.36,641.00 L202.36,642.80 L202.90,645.80 L203.44,647.00 L203.98,647.60 L205.06,648.20 M206.14,648.20 L207.22,647.60 L207.76,647.00 L208.30,645.80 L208.84,642.80 L208.84,641.00 L208.30,638.00 L207.76,636.80 L207.22,636.20 L206.14,635.60" fill="none" stroke="#000" stroke-width="1.15" stroke-linecap="round" stroke-linejoin="round"/>
<path d="M270.66,635.60 L269.04,636.20 L267.96,638.00 L267.42,641.00 L267.42,642.80 L267.96,645.80 L269.04,647.60 L270.66,648.20 L271.74,648.20 L273.36,647.60 L274.44,645.80 L274.98,642.80 L274.98,641.00 L274.44,638.00 L273.36,636.20 L271.74,635.60 L270.66,635.60 M270.66,635.60 L269.58,636.20 L269.04,636.80 L268.50,638.00 L267.96,641.00 L267.96,642.80 L268.50,645.80 L269.04,647.00 L269.58,647.60 L270.66,648.20 M271.74,648.20 L272.82,647.60 L273.36,647.00 L273.90,645.80 L274.44,642.80 L274.44,641.00 L273.90,638.00 L273.36,636.80 L272.82,636.20 L271.74,635.60 M279.30,647.00 L278.76,647.60 L279.30,648.20 L279.84,647.60 L279.30,647.00 M284.70,635.60 L283.62,641.60 M283.62,641.60 L284.70,640.40 L286.32,639.80 L287.94,639.80 L289.56,640.40 L290.64,641.60 L291.18,643.40 L291.18,644.60 L290.64,646.40 L289.56,647.60 L287.94,648.20 L286.32,648.20 L284.70,647.60 L284.16,647.00 L283.62,645.80 L283.62,645.20 L284.16,644.60 L284.70,645.20 L284.16,645.80 M287.94,639.80 L289.02,640.40 L290.10,641.60 L290.64,643.40 L290.64,644.60 L290.10,646.40 L289.02,647.60 L287.94,648.20 M284.70,635.60 L290.10,635.60 M284.70,636.20 L287.40,636.20 L290.10,635.60" fill="none" stroke="#000" stroke-width="1.15" stroke-linecap="round" stroke-linejoin="round"/>
<path d="M351.23,638.00 L352.31,637.40 L353.93,635.60 L353.93,648.20 M353.39,636.20 L353.39,648.20 M351.23,648.20 L356.09,648.20 M361.49,647.00 L360.95,647.60 L361.49,648.20 L362.03,647.60 L361.49,647.00 M369.05,635.60 L367.43,636.20 L366.35,638.00 L365.81,641.00 L365.81,642.80 L366.35,645.80 L367.43,647.60 L369.05,648.20 L370.13,648.20 L371.75,647.60 L372.83,645.80 L373.37,642.80 L373.37,641.00 L372.83,638.00 L371.75,636.20 L370.13,635.60 L369.05,635.60 M369.05,635.60 L367.97,636.20 L367.43,636.80 L366.89,638.00 L366.35,641.00 L366.35,642.80 L366.89,645.80 L367.43,647.00 L367.97,647.60 L369.05,648.20 M370.13,648.20 L371.21,647.60 L371.75,647.00 L372.29,645.80 L372.83,642.80 L372.83,641.00 L372.29,638.00 L371.75,636.80 L371.21,636.20 L370.13,635.60" fill="none" stroke="#000" stroke-width="1.15" stroke-linecap="round" stroke-linejoin="round"/>
<path d="M3.86,6.56 L4.94,5.96 L6.56,4.16 L6.56,16.76 M6.02,4.76 L6.02,16.76 M3.86,16.76 L8.72,16.76 M14.12,15.56 L13.58,16.16 L14.12,16.76 L14.66,16.16 L14.12,15.56 M21.68,4.16 L20.06,4.76 L18.98,6.56 L18.44,9.56 L18.44,11.36 L18.98,14.36 L20.06,16.16 L21.68,16.76 L22.76,16.76 L24.38,16.16 L25.46,14.36 L26.00,11.36 L26.00,9.56 L25.46,6.56 L24.38,4.76 L22.76,4.16 L21.68,4.16 M21.68,4.16 L20.60,4.76 L20.06,5.36 L19.52,6.56 L18.98,9.56 L18.98,11.36 L19.52,14.36 L20.06,15.56 L20.60,16.16 L21.68,16.76 M22.76,16.76 L23.84,16.16 L24.38,15.56 L24.92,14.36 L25.46,11.36 L25.46,9.56 L24.92,6.56 L24.38,5.36 L23.84,4.76 L22.76,4.16" fill="none" stroke="#000" stroke-width="1.15" stroke-linecap="round" stroke-linejoin="round"/>
<path d="M5.48,47.45 L3.86,48.05 L2.78,49.85 L2.24,52.85 L2.24,54.65 L2.78,57.65 L3.86,59.45 L5.48,60.05 L6.56,60.05 L8.18,59.45 L9.26,57.65 L9.80,54.65 L9.80,52.85 L9.26,49.85 L8.18,48.05 L6.56,47.45 L5.48,47.45 M5.48,47.45 L4.40,48.05 L3.86,48.65 L3.32,49.85 L2.78,52.85 L2.78,54.65 L3.32,57.65 L3.86,58.85 L4.40,59.45 L5.48,60.05 M6.56,60.05 L7.64,59.45 L8.18,58.85 L8.72,57.65 L9.26,54.65 L9.26,52.85 L8.72,49.85 L8.18,48.65 L7.64,48.05 L6.56,47.45 M14.12,58.85 L13.58,59.45 L14.12,60.05 L14.66,59.45 L14.12,58.85 M19.52,47.45 L18.44,53.45 M18.44,53.45 L19.52,52.25 L21.14,51.65 L22.76,51.65 L24.38,52.25 L25.46,53.45 L26.00,55.25 L26.00,56.45 L25.46,58.25 L24.38,59.45 L22.76,60.05 L21.14,60.05 L19.52,59.45 L18.98,58.85 L18.44,57.65 L18.44,57.05 L18.98,56.45 L19.52,57.05 L18.98,57.65 M22.76,51.65 L23.84,52.25 L24.92,53.45 L25.46,55.25 L25.46,56.45 L24.92,58.25 L23.84,59.45 L22.76,60.05 M19.52,47.45 L24.92,47.45 M19.52,48.05 L22.22,48.05 L24.92,47.45" fill="none" stroke="#000" stroke-width="1.15" stroke-linecap="round" stroke-linejoin="round"/>
<path d="M5.48,90.74 L3.86,91.34 L2.78,93.14 L2.24,96.14 L2.24,97.94 L2.78,100.94 L3.86,102.74 L5.48,103.34 L6.56,103.34 L8.18,102.74 L9.26,100.94 L9.80,97.94 L9.80,96.14 L9.26,93.14 L8.18,91.34 L6.56,90.74 L5.48,90.74 M5.48,90.74 L4.40,91.34 L3.86,91.94 L3.32,93.14 L2.78,96.14 L2.78,97.94 L3.32,100.94 L3.86,102.14 L4.40,102.74 L5.48,103.34 M6.56,103.34 L7.64,102.74 L8.18,102.14 L8.72,100.94 L9.26,97.94 L9.26,96.14 L8.72,93.14 L8.18,91.94 L7.64,91.34 L6.56,90.74 M14.12,102.14 L13.58,102.74 L14.12,103.34 L14.66,102.74 L14.12,102.14 M21.68,90.74 L20.06,91.34 L18.98,93.14 L18.44,96.14 L18.44,97.94 L18.98,100.94 L20.06,102.74 L21.68,103.34 L22.76,103.34 L24.38,102.74 L25.46,100.94 L26.00,97.94 L26.00,96.14 L25.46,93.14 L24.38,91.34 L22.76,90.74 L21.68,90.74 M21.68,90.74 L20.60,91.34 L20.06,91.94 L19.52,93.14 L18.98,96.14 L18.98,97.94 L19.52,100.94 L20.06,102.14 L20.60,102.74 L21.68,103.34 M22.76,103.34 L23.84,102.74 L24.38,102.14 L24.92,100.94 L25.46,97.94 L25.46,96.14 L24.92,93.14 L24.38,91.94 L23.84,91.34 L22.76,90.74" fill="none" stroke="#000" stroke-width="1.15" stroke-linecap="round" stroke-linejoin="round"/>
<path d="M-11.26,141.23 L-1.54,141.23 M5.48,134.03 L3.86,134.63 L2.78,136.43 L2.24,139.43 L2.24,141.23 L2.78,144.23 L3.86,146.03 L5.48,146.63 L6.56,146.63 L8.18,146.03 L9.26,144.23 L9.80,141.23 L9.80,139.43 L9.26,136.43 L8.18,134.63 L6.56,134.03 L5.48,134.03 M5.48,134.03 L4.40,134.63 L3.86,135.23 L3.32,136.43 L2.78,139.43 L2.78,141.23 L3.32,144.23 L3.86,145.43 L4.40,146.03 L5.48,146.63 M6.56,146.63 L7.64,146.03 L8.18,145.43 L8.72,144.23 L9.26,141.23 L9.26,139.43 L8.72,136.43 L8.18,135.23 L7.64,134.63 L6.56,134.03 M14.12,145.43 L13.58,146.03 L14.12,146.63 L14.66,146.03 L14.12,145.43 M19.52,134.03 L18.44,140.03 M18.44,140.03 L19.52,138.83 L21.14,138.23 L22.76,138.23 L24.38,138.83 L25.46,140.03 L26.00,141.83 L26.00,143.03 L25.46,144.83 L24.38,146.03 L22.76,146.63 L21.14,146.63 L19.52,146.03 L18.98,145.43 L18.44,144.23 L18.44,143.63 L18.98,143.03 L19.52,143.63 L18.98,144.23 M22.76,138.23 L23.84,138.83 L24.92,140.03 L25.46,141.83 L25.46,143.03 L24.92,144.83 L23.84,146.03 L22.76,146.63 M19.52,134.03 L24.92,134.03 M19.52,134.63 L22.22,134.63 L24.92,134.03" fill="none" stroke="#000" stroke-width="1.15" stroke-linecap="round" stroke-linejoin="round"/>
<path d="M-11.26,184.53 L-1.54,184.53 M3.86,179.73 L4.94,179.12 L6.56,177.33 L6.56,189.93 M6.02,177.93 L6.02,189.93 M3.86,189.93 L8.72,189.93 M14.12,188.73 L13.58,189.33 L14.12,189.93 L14.66,189.33 L14.12,188.73 M21.68,177.33 L20.06,177.93 L18.98,179.73 L18.44,182.73 L18.44,184.53 L18.98,187.53 L20.06,189.33 L21.68,189.93 L22.76,189.93 L24.38,189.33 L25.46,187.53 L26.00,184.53 L26.00,182.73 L25.46,179.73 L24.38,177.93 L22.76,177.33 L21.68,177.33 M21.68,177.33 L20.60,177.93 L20.06,178.53 L19.52,179.73 L18.98,182.73 L18.98,184.53 L19.52,187.53 L20.06,188.73 L20.60,189.33 L21.68,189.93 M22.76,189.93 L23.84,189.33 L24.38,188.73 L24.92,187.53 L25.46,184.53 L25.46,182.73 L24.92,179.73 L24.38,178.53 L23.84,177.93 L22.76,177.33" fill="none" stroke="#000" stroke-width="1.15" stroke-linecap="round" stroke-linejoin="round"/>
<path d="M3.86,214.36 L4.94,213.76 L6.56,211.96 L6.56,224.56 M6.02,212.56 L6.02,224.56 M3.86,224.56 L8.72,224.56 M14.12,223.36 L13.58,223.96 L14.12,224.56 L14.66,223.96 L14.12,223.36 M21.68,211.96 L20.06,212.56 L18.98,214.36 L18.44,217.36 L18.44,219.16 L18.98,222.16 L20.06,223.96 L21.68,224.56 L22.76,224.56 L24.38,223.96 L25.46,222.16 L26.00,219.16 L26.00,217.36 L25.46,214.36 L24.38,212.56 L22.76,211.96 L21.68,211.96 M21.68,211.96 L20.60,212.56 L20.06,213.16 L19.52,214.36 L18.98,217.36 L18.98,219.16 L19.52,222.16 L20.06,223.36 L20.60,223.96 L21.68,224.56 M22.76,224.56 L23.84,223.96 L24.38,223.36 L24.92,222.16 L25.46,219.16 L25.46,217.36 L24.92,214.36 L24.38,213.16 L23.84,212.56 L22.76,211.96" fill="none" stroke="#000" stroke-width="1.15" stroke-linecap="round" stroke-linejoin="round"/>
<path d="M5.48,255.28 L3.86,255.88 L2.78,257.68 L2.24,260.68 L2.24,262.48 L2.78,265.48 L3.86,267.27 L5.48,267.88 L6.56,267.88 L8.18,267.27 L9.26,265.48 L9.80,262.48 L9.80,260.68 L9.26,257.68 L8.18,255.88 L6.56,255.28 L5.48,255.28 M5.48,255.28 L4.40,255.88 L3.86,256.48 L3.32,257.68 L2.78,260.68 L2.78,262.48 L3.32,265.48 L3.86,266.68 L4.40,267.27 L5.48,267.88 M6.56,267.88 L7.64,267.27 L8.18,266.68 L8.72,265.48 L9.26,262.48 L9.26,260.68 L8.72,257.68 L8.18,256.48 L7.64,255.88 L6.56,255.28 M14.12,266.68 L13.58,267.27 L14.12,267.88 L14.66,267.27 L14.12,266.68 M19.52,255.28 L18.44,261.27 M18.44,261.27 L19.52,260.07 L21.14,259.48 L22.76,259.48 L24.38,260.07 L25.46,261.27 L26.00,263.07 L26.00,264.27 L25.46,266.07 L24.38,267.27 L22.76,267.88 L21.14,267.88 L19.52,267.27 L18.98,266.68 L18.44,265.48 L18.44,264.88 L18.98,264.27 L19.52,264.88 L18.98,265.48 M22.76,259.48 L23.84,260.07 L24.92,261.27 L25.46,263.07 L25.46,264.27 L24.92,266.07 L23.84,267.27 L22.76,267.88 M19.52,255.28 L24.92,255.28 M19.52,255.88 L22.22,255.88 L24.92,255.28" fill="none" stroke="#000" stroke-width="1.15" stroke-linecap="round" stroke-linejoin="round"/>
<path d="M5.48,298.59 L3.86,299.19 L2.78,300.99 L2.24,303.99 L2.24,305.79 L2.78,308.79 L3.86,310.59 L5.48,311.19 L6.56,311.19 L8.18,310.59 L9.26,308.79 L9.80,305.79 L9.80,303.99 L9.26,300.99 L8.18,299.19 L6.56,298.59 L5.48,298.59 M5.48,298.59 L4.40,299.19 L3.86,299.79 L3.32,300.99 L2.78,303.99 L2.78,305.79 L3.32,308.79 L3.86,309.99 L4.40,310.59 L5.48,311.19 M6.56,311.19 L7.64,310.59 L8.18,309.99 L8.72,308.79 L9.26,305.79 L9.26,303.99 L8.72,300.99 L8.18,299.79 L7.64,299.19 L6.56,298.59 M14.12,309.99 L13.58,310.59 L14.12,311.19 L14.66,310.59 L14.12,309.99 M21.68,298.59 L20.06,299.19 L18.98,300.99 L18.44,303.99 L18.44,305.79 L18.98,308.79 L20.06,310.59 L21.68,311.19 L22.76,311.19 L24.38,310.59 L25.46,308.79 L26.00,305.79 L26.00,303.99 L25.46,300.99 L24.38,299.19 L22.76,298.59 L21.68,298.59 M21.68,298.59 L20.60,299.19 L20.06,299.79 L19.52,300.99 L18.98,303.99 L18.98,305.79 L19.52,308.79 L20.06,309.99 L20.60,310.59 L21.68,311.19 M22.76,311.19 L23.84,310.59 L24.38,309.99 L24.92,308.79 L25.46,305.79 L25.46,303.99 L24.92,300.99 L24.38,299.79 L23.84,299.19 L22.76,298.59" fill="none" stroke="#000" stroke-width="1.15" stroke-linecap="round" stroke-linejoin="round"/>
<path d="M-11.26,349.10 L-1.54,349.10 M5.48,341.90 L3.86,342.50 L2.78,344.30 L2.24,347.30 L2.24,349.10 L2.78,352.10 L3.86,353.90 L5.48,354.50 L6.56,354.50 L8.18,353.90 L9.26,352.10 L9.80,349.10 L9.80,347.30 L9.26,344.30 L8.18,342.50 L6.56,341.90 L5.48,341.90 M5.48,341.90 L4.40,342.50 L3.86,343.10 L3.32,344.30 L2.78,347.30 L2.78,349.10 L3.32,352.10 L3.86,353.30 L4.40,353.90 L5.48,354.50 M6.56,354.50 L7.64,353.90 L8.18,353.30 L8.72,352.10 L9.26,349.10 L9.26,347.30 L8.72,344.30 L8.18,343.10 L7.64,342.50 L6.56,341.90 M14.12,353.30 L13.58,353.90 L14.12,354.50 L14.66,353.90 L14.12,353.30 M19.52,341.90 L18.44,347.90 M18.44,347.90 L19.52,346.70 L21.14,346.10 L22.76,346.10 L24.38,346.70 L25.46,347.90 L26.00,349.70 L26.00,350.90 L25.46,352.70 L24.38,353.90 L22.76,354.50 L21.14,354.50 L19.52,353.90 L18.98,353.30 L18.44,352.10 L18.44,351.50 L18.98,350.90 L19.52,351.50 L18.98,352.10 M22.76,346.10 L23.84,346.70 L24.92,347.90 L25.46,349.70 L25.46,350.90 L24.92,352.70 L23.84,353.90 L22.76,354.50 M19.52,341.90 L24.92,341.90 M19.52,342.50 L22.22,342.50 L24.92,341.90" fill="none" stroke="#000" stroke-width="1.15" stroke-linecap="round" stroke-linejoin="round"/>
<path d="M-11.26,392.41 L-1.54,392.41 M3.86,387.61 L4.94,387.01 L6.56,385.21 L6.56,397.81 M6.02,385.81 L6.02,397.81 M3.86,397.81 L8.72,397.81 M14.12,396.61 L13.58,397.21 L14.12,397.81 L14.66,397.21 L14.12,396.61 M21.68,385.21 L20.06,385.81 L18.98,387.61 L18.44,390.61 L18.44,392.41 L18.98,395.41 L20.06,397.21 L21.68,397.81 L22.76,397.81 L24.38,397.21 L25.46,395.41 L26.00,392.41 L26.00,390.61 L25.46,387.61 L24.38,385.81 L22.76,385.21 L21.68,385.21 M21.68,385.21 L20.60,385.81 L20.06,386.41 L19.52,387.61 L18.98,390.61 L18.98,392.41 L19.52,395.41 L20.06,396.61 L20.60,397.21 L21.68,397.81 M22.76,397.81 L23.84,397.21 L24.38,396.61 L24.92,395.41 L25.46,392.41 L25.46,390.61 L24.92,387.61 L24.38,386.41 L23.84,385.81 L22.76,385.21" fill="none" stroke="#000" stroke-width="1.15" stroke-linecap="round" stroke-linejoin="round"/>
<path d="M3.86,422.24 L4.94,421.64 L6.56,419.84 L6.56,432.44 M6.02,420.44 L6.02,432.44 M3.86,432.44 L8.72,432.44 M14.12,431.24 L13.58,431.84 L14.12,432.44 L14.66,431.84 L14.12,431.24 M21.68,419.84 L20.06,420.44 L18.98,422.24 L18.44,425.24 L18.44,427.04 L18.98,430.04 L20.06,431.84 L21.68,432.44 L22.76,432.44 L24.38,431.84 L25.46,430.04 L26.00,427.04 L26.00,425.24 L25.46,422.24 L24.38,420.44 L22.76,419.84 L21.68,419.84 M21.68,419.84 L20.60,420.44 L20.06,421.04 L19.52,422.24 L18.98,425.24 L18.98,427.04 L19.52,430.04 L20.06,431.24 L20.60,431.84 L21.68,432.44 M22.76,432.44 L23.84,431.84 L24.38,431.24 L24.92,430.04 L25.46,427.04 L25.46,425.24 L24.92,422.24 L24.38,421.04 L23.84,420.44 L22.76,419.84" fill="none" stroke="#000" stroke-width="1.15" stroke-linecap="round" stroke-linejoin="round"/>
<path d="M5.48,463.05 L3.86,463.65 L2.78,465.45 L2.24,468.45 L2.24,470.25 L2.78,473.25 L3.86,475.05 L5.48,475.65 L6.56,475.65 L8.18,475.05 L9.26,473.25 L9.80,470.25 L9.80,468.45 L9.26,465.45 L8.18,463.65 L6.56,463.05 L5.48,463.05 M5.48,463.05 L4.40,463.65 L3.86,464.25 L3.32,465.45 L2.78,468.45 L2.78,470.25 L3.32,473.25 L3.86,474.45 L4.40,475.05 L5.48,475.65 M6.56,475.65 L7.64,475.05 L8.18,474.45 L8.72,473.25 L9.26,470.25 L9.26,468.45 L8.72,465.45 L8.18,464.25 L7.64,463.65 L6.56,463.05 M14.12,474.45 L13.58,475.05 L14.12,475.65 L14.66,475.05 L14.12,474.45 M19.52,463.05 L18.44,469.05 M18.44,469.05 L19.52,467.85 L21.14,467.25 L22.76,467.25 L24.38,467.85 L25.46,469.05 L26.00,470.85 L26.00,472.05 L25.46,473.85 L24.38,475.05 L22.76,475.65 L21.14,475.65 L19.52,475.05 L18.98,474.45 L18.44,473.25 L18.44,472.65 L18.98,472.05 L19.52,472.65 L18.98,473.25 M22.76,467.25 L23.84,467.85 L24.92,469.05 L25.46,470.85 L25.46,472.05 L24.92,473.85 L23.84,475.05 L22.76,475.65 M19.52,463.05 L24.92,463.05 M19.52,463.65 L22.22,463.65 L24.92,463.05" fill="none" stroke="#000" stroke-width="1.15" stroke-linecap="round" stroke-linejoin="round"/>
<path d="M5.48,506.26 L3.86,506.86 L2.78,508.66 L2.24,511.66 L2.24,513.46 L2.78,516.46 L3.86,518.26 L5.48,518.86 L6.56,518.86 L8.18,518.26 L9.26,516.46 L9.80,513.46 L9.80,511.66 L9.26,508.66 L8.18,506.86 L6.56,506.26 L5.48,506.26 M5.48,506.26 L4.40,506.86 L3.86,507.46 L3.32,508.66 L2.78,511.66 L2.78,513.46 L3.32,516.46 L3.86,517.66 L4.40,518.26 L5.48,518.86 M6.56,518.86 L7.64,518.26 L8.18,517.66 L8.72,516.46 L9.26,513.46 L9.26,511.66 L8.72,508.66 L8.18,507.46 L7.64,506.86 L6.56,506.26 M14.12,517.66 L13.58,518.26 L14.12,518.86 L14.66,518.26 L14.12,517.66 M21.68,506.26 L20.06,506.86 L18.98,508.66 L18.44,511.66 L18.44,513.46 L18.98,516.46 L20.06,518.26 L21.68,518.86 L22.76,518.86 L24.38,518.26 L25.46,516.46 L26.00,513.46 L26.00,511.66 L25.46,508.66 L24.38,506.86 L22.76,506.26 L21.68,506.26 M21.68,506.26 L20.60,506.86 L20.06,507.46 L19.52,508.66 L18.98,511.66 L18.98,513.46 L19.52,516.46 L20.06,517.66 L20.60,518.26 L21.68,518.86 M22.76,518.86 L23.84,518.26 L24.38,517.66 L24.92,516.46 L25.46,513.46 L25.46,511.66 L24.92,508.66 L24.38,507.46 L23.84,506.86 L22.76,506.26" fill="none" stroke="#000" stroke-width="1.15" stroke-linecap="round" stroke-linejoin="round"/>
<path d="M-11.26,556.67 L-1.54,556.67 M5.48,549.47 L3.86,550.07 L2.78,551.87 L2.24,554.87 L2.24,556.67 L2.78,559.67 L3.86,561.47 L5.48,562.07 L6.56,562.07 L8.18,561.47 L9.26,559.67 L9.80,556.67 L9.80,554.87 L9.26,551.87 L8.18,550.07 L6.56,549.47 L5.48,549.47 M5.48,549.47 L4.40,550.07 L3.86,550.67 L3.32,551.87 L2.78,554.87 L2.78,556.67 L3.32,559.67 L3.86,560.87 L4.40,561.47 L5.48,562.07 M6.56,562.07 L7.64,561.47 L8.18,560.87 L8.72,559.67 L9.26,556.67 L9.26,554.87 L8.72,551.87 L8.18,550.67 L7.64,550.07 L6.56,549.47 M14.12,560.87 L13.58,561.47 L14.12,562.07 L14.66,561.47 L14.12,560.87 M19.52,549.47 L18.44,555.47 M18.44,555.47 L19.52,554.27 L21.14,553.67 L22.76,553.67 L24.38,554.27 L25.46,555.47 L26.00,557.27 L26.00,558.47 L25.46,560.27 L24.38,561.47 L22.76,562.07 L21.14,562.07 L19.52,561.47 L18.98,560.87 L18.44,559.67 L18.44,559.07 L18.98,558.47 L19.52,559.07 L18.98,559.67 M22.76,553.67 L23.84,554.27 L24.92,555.47 L25.46,557.27 L25.46,558.47 L24.92,560.27 L23.84,561.47 L22.76,562.07 M19.52,549.47 L24.92,549.47 M19.52,550.07 L22.22,550.07 L24.92,549.47" fill="none" stroke="#000" stroke-width="1.15" stroke-linecap="round" stroke-linejoin="round"/>
<path d="M-11.26,599.88 L-1.54,599.88 M3.86,595.07 L4.94,594.48 L6.56,592.67 L6.56,605.27 M6.02,593.27 L6.02,605.27 M3.86,605.27 L8.72,605.27 M14.12,604.07 L13.58,604.67 L14.12,605.27 L14.66,604.67 L14.12,604.07 M21.68,592.67 L20.06,593.27 L18.98,595.07 L18.44,598.07 L18.44,599.88 L18.98,602.88 L20.06,604.67 L21.68,605.27 L22.76,605.27 L24.38,604.67 L25.46,602.88 L26.00,599.88 L26.00,598.07 L25.46,595.07 L24.38,593.27 L22.76,592.67 L21.68,592.67 M21.68,592.67 L20.60,593.27 L20.06,593.88 L19.52,595.07 L18.98,598.07 L18.98,599.88 L19.52,602.88 L20.06,604.07 L20.60,604.67 L21.68,605.27 M22.76,605.27 L23.84,604.67 L24.38,604.07 L24.92,602.88 L25.46,599.88 L25.46,598.07 L24.92,595.07 L24.38,593.88 L23.84,593.27 L22.76,592.67" fill="none" stroke="#000" stroke-width="1.15" stroke-linecap="round" stroke-linejoin="round"/>
<path d="M100.65,31.20 L95.65,40.50 M101.03,31.20 L96.03,40.50 M96.03,31.20 L95.65,33.85 L95.65,31.20 L101.03,31.20 M95.65,40.50 L101.03,40.50 L101.03,37.84 L100.65,40.50 M104.11,31.20 L104.11,40.50 M104.49,31.20 L104.49,40.50 M104.49,35.63 L105.26,34.74 L106.41,34.30 L107.18,34.30 L108.33,34.74 L108.72,35.63 L108.72,40.50 M107.18,34.30 L107.95,34.74 L108.33,35.63 L108.33,40.50 M102.95,31.20 L104.49,31.20 M102.95,40.50 L105.64,40.50 M107.18,40.50 L109.87,40.50 M112.18,36.51 L119.10,36.51 M122.55,31.20 L122.55,38.73 L122.94,40.06 L123.71,40.50 L124.48,40.50 L125.24,40.06 L125.63,39.17 M122.94,31.20 L122.94,38.73 L123.32,40.06 L123.71,40.50 M121.40,34.30 L124.48,34.30 M128.32,34.30 L128.32,40.50 M128.70,34.30 L128.70,40.50 M128.70,36.96 L129.09,35.63 L129.86,34.74 L130.63,34.30 L131.78,34.30 L132.16,34.74 L132.16,35.18 L131.78,35.63 L131.39,35.18 L131.78,34.74 M127.17,34.30 L128.70,34.30 M127.17,40.50 L129.86,40.50 M134.85,35.18 L134.85,35.63 L134.47,35.63 L134.47,35.18 L134.85,34.74 L135.62,34.30 L137.16,34.30 L137.93,34.74 L138.31,35.18 L138.70,36.07 L138.70,39.17 L139.08,40.06 L139.47,40.50 M138.31,35.18 L138.31,39.17 L138.70,40.06 L139.47,40.50 L139.85,40.50 M138.31,36.07 L137.93,36.51 L135.62,36.96 L134.47,37.40 L134.08,38.28 L134.08,39.17 L134.47,40.06 L135.62,40.50 L136.78,40.50 L137.54,40.06 L138.31,39.17 M135.62,36.96 L134.85,37.40 L134.47,38.28 L134.47,39.17 L134.85,40.06 L135.62,40.50 M142.54,34.30 L142.54,40.50 M142.92,34.30 L142.92,40.50 M142.92,35.63 L143.69,34.74 L144.85,34.30 L145.62,34.30 L146.77,34.74 L147.15,35.63 L147.15,40.50 M145.62,34.30 L146.38,34.74 L146.77,35.63 L146.77,40.50 M141.39,34.30 L142.92,34.30 M141.39,40.50 L144.08,40.50 M145.62,40.50 L148.31,40.50 M154.07,35.18 L154.46,34.30 L154.46,36.07 L154.07,35.18 L153.69,34.74 L152.92,34.30 L151.38,34.30 L150.61,34.74 L150.23,35.18 L150.23,36.07 L150.61,36.51 L151.38,36.96 L153.30,37.84 L154.07,38.28 L154.46,38.73 M150.23,35.63 L150.61,36.07 L151.38,36.51 L153.30,37.40 L154.07,37.84 L154.46,38.28 L154.46,39.61 L154.07,40.06 L153.30,40.50 L151.76,40.50 L151.00,40.06 L150.61,39.61 L150.23,38.73 L150.23,40.50 L150.61,39.61 M156.76,34.30 L159.07,40.50 M157.15,34.30 L159.07,39.61 M161.37,34.30 L159.07,40.50 M155.99,34.30 L158.30,34.30 M159.84,34.30 L162.14,34.30 M164.06,36.96 L168.68,36.96 L168.68,36.07 L168.29,35.18 L167.91,34.74 L167.14,34.30 L165.99,34.30 L164.83,34.74 L164.06,35.63 L163.68,36.96 L163.68,37.84 L164.06,39.17 L164.83,40.06 L165.99,40.50 L166.75,40.50 L167.91,40.06 L168.68,39.17 M168.29,36.96 L168.29,35.63 L167.91,34.74 M165.99,34.30 L165.22,34.74 L164.45,35.63 L164.06,36.96 L164.06,37.84 L164.45,39.17 L165.22,40.06 L165.99,40.50 M171.75,34.30 L171.75,40.50 M172.14,34.30 L172.14,40.50 M172.14,36.96 L172.52,35.63 L173.29,34.74 L174.06,34.30 L175.21,34.30 L175.59,34.74 L175.59,35.18 L175.21,35.63 L174.83,35.18 L175.21,34.74 M170.60,34.30 L172.14,34.30 M170.60,40.50 L173.29,40.50 M181.36,35.18 L181.74,34.30 L181.74,36.07 L181.36,35.18 L180.98,34.74 L180.21,34.30 L178.67,34.30 L177.90,34.74 L177.52,35.18 L177.52,36.07 L177.90,36.51 L178.67,36.96 L180.59,37.84 L181.36,38.28 L181.74,38.73 M177.52,35.63 L177.90,36.07 L178.67,36.51 L180.59,37.40 L181.36,37.84 L181.74,38.28 L181.74,39.61 L181.36,40.06 L180.59,40.50 L179.05,40.50 L178.28,40.06 L177.90,39.61 L177.52,38.73 L177.52,40.50 L177.90,39.61 M184.43,36.96 L189.05,36.96 L189.05,36.07 L188.66,35.18 L188.28,34.74 L187.51,34.30 L186.36,34.30 L185.20,34.74 L184.43,35.63 L184.05,36.96 L184.05,37.84 L184.43,39.17 L185.20,40.06 L186.36,40.50 L187.12,40.50 L188.28,40.06 L189.05,39.17 M188.66,36.96 L188.66,35.63 L188.28,34.74 M186.36,34.30 L185.59,34.74 L184.82,35.63 L184.43,36.96 L184.43,37.84 L184.82,39.17 L185.59,40.06 L186.36,40.50 M198.27,31.20 L198.27,40.50 M198.66,31.20 L198.66,40.50 M198.66,35.63 L199.42,34.74 L200.19,34.30 L200.96,34.30 L202.11,34.74 L202.88,35.63 L203.27,36.96 L203.27,37.84 L202.88,39.17 L202.11,40.06 L200.96,40.50 L200.19,40.50 L199.42,40.06 L198.66,39.17 M200.96,34.30 L201.73,34.74 L202.50,35.63 L202.88,36.96 L202.88,37.84 L202.50,39.17 L201.73,40.06 L200.96,40.50 M197.12,31.20 L198.66,31.20 M206.34,35.18 L206.34,35.63 L205.96,35.63 L205.96,35.18 L206.34,34.74 L207.11,34.30 L208.65,34.30 L209.42,34.74 L209.80,35.18 L210.19,36.07 L210.19,39.17 L210.57,40.06 L210.95,40.50 M209.80,35.18 L209.80,39.17 L210.19,40.06 L210.95,40.50 L211.34,40.50 M209.80,36.07 L209.42,36.51 L207.11,36.96 L205.96,37.40 L205.57,38.28 L205.57,39.17 L205.96,40.06 L207.11,40.50 L208.26,40.50 L209.03,40.06 L209.80,39.17 M207.11,36.96 L206.34,37.40 L205.96,38.28 L205.96,39.17 L206.34,40.06 L207.11,40.50 M217.10,35.18 L217.49,34.30 L217.49,36.07 L217.10,35.18 L216.72,34.74 L215.95,34.30 L214.41,34.30 L213.64,34.74 L213.26,35.18 L213.26,36.07 L213.64,36.51 L214.41,36.96 L216.34,37.84 L217.10,38.28 L217.49,38.73 M213.26,35.63 L213.64,36.07 L214.41,36.51 L216.34,37.40 L217.10,37.84 L217.49,38.28 L217.49,39.61 L217.10,40.06 L216.34,40.50 L214.80,40.50 L214.03,40.06 L213.64,39.61 L213.26,38.73 L213.26,40.50 L213.64,39.61 M220.56,31.20 L220.18,31.64 L220.56,32.08 L220.95,31.64 L220.56,31.20 M220.56,34.30 L220.56,40.50 M220.95,34.30 L220.95,40.50 M219.41,34.30 L220.95,34.30 M219.41,40.50 L222.10,40.50 M227.87,35.18 L228.25,34.30 L228.25,36.07 L227.87,35.18 L227.48,34.74 L226.71,34.30 L225.18,34.30 L224.41,34.74 L224.02,35.18 L224.02,36.07 L224.41,36.51 L225.18,36.96 L227.10,37.84 L227.87,38.28 L228.25,38.73 M224.02,35.63 L224.41,36.07 L225.18,36.51 L227.10,37.40 L227.87,37.84 L228.25,38.28 L228.25,39.61 L227.87,40.06 L227.10,40.50 L225.56,40.50 L224.79,40.06 L224.41,39.61 L224.02,38.73 L224.02,40.50 L224.41,39.61" fill="none" stroke="#000" stroke-width="1.3" stroke-linecap="round" stroke-linejoin="round"/>
<path d="M96.80,44.10 L96.80,53.40 M97.18,44.10 L97.18,53.40 M95.65,44.10 L100.25,44.10 L101.40,44.54 L101.78,44.98 L102.16,45.87 L102.16,46.75 L101.78,47.64 L101.40,48.08 L100.25,48.53 M100.25,44.10 L101.01,44.54 L101.40,44.98 L101.78,45.87 L101.78,46.75 L101.40,47.64 L101.01,48.08 L100.25,48.53 M97.18,48.53 L100.25,48.53 L101.40,48.97 L101.78,49.41 L102.16,50.30 L102.16,51.63 L101.78,52.51 L101.40,52.96 L100.25,53.40 L95.65,53.40 M100.25,48.53 L101.01,48.97 L101.40,49.41 L101.78,50.30 L101.78,51.63 L101.40,52.51 L101.01,52.96 L100.25,53.40 M104.84,49.86 L109.44,49.86 L109.44,48.97 L109.06,48.08 L108.67,47.64 L107.91,47.20 L106.76,47.20 L105.61,47.64 L104.84,48.53 L104.46,49.86 L104.46,50.74 L104.84,52.07 L105.61,52.96 L106.76,53.40 L107.53,53.40 L108.67,52.96 L109.44,52.07 M109.06,49.86 L109.06,48.53 L108.67,47.64 M106.76,47.20 L105.99,47.64 L105.23,48.53 L104.84,49.86 L104.84,50.74 L105.23,52.07 L105.99,52.96 L106.76,53.40 M112.51,48.08 L112.51,48.53 L112.12,48.53 L112.12,48.08 L112.51,47.64 L113.27,47.20 L114.80,47.20 L115.57,47.64 L115.95,48.08 L116.34,48.97 L116.34,52.07 L116.72,52.96 L117.10,53.40 M115.95,48.08 L115.95,52.07 L116.34,52.96 L117.10,53.40 L117.49,53.40 M115.95,48.97 L115.57,49.41 L113.27,49.86 L112.12,50.30 L111.74,51.19 L111.74,52.07 L112.12,52.96 L113.27,53.40 L114.42,53.40 L115.19,52.96 L115.95,52.07 M113.27,49.86 L112.51,50.30 L112.12,51.19 L112.12,52.07 L112.51,52.96 L113.27,53.40 M120.17,47.20 L120.17,53.40 M120.55,47.20 L120.55,53.40 M120.55,48.53 L121.32,47.64 L122.46,47.20 L123.23,47.20 L124.38,47.64 L124.76,48.53 L124.76,53.40 M123.23,47.20 L124.00,47.64 L124.38,48.53 L124.38,53.40 M124.76,48.53 L125.53,47.64 L126.68,47.20 L127.44,47.20 L128.59,47.64 L128.98,48.53 L128.98,53.40 M127.44,47.20 L128.21,47.64 L128.59,48.53 L128.59,53.40 M119.02,47.20 L120.55,47.20 M119.02,53.40 L121.70,53.40 M123.23,53.40 L125.91,53.40 M127.44,53.40 L130.13,53.40 M132.81,44.10 L132.81,53.40 M133.19,44.10 L133.19,53.40 M131.66,44.10 L133.19,44.10 M131.66,53.40 L134.34,53.40 M137.02,44.10 L136.64,44.54 L137.02,44.98 L137.40,44.54 L137.02,44.10 M137.02,47.20 L137.02,53.40 M137.40,47.20 L137.40,53.40 M135.87,47.20 L137.40,47.20 M135.87,53.40 L138.55,53.40 M141.24,47.20 L141.24,53.40 M141.62,47.20 L141.62,53.40 M141.62,48.53 L142.38,47.64 L143.53,47.20 L144.30,47.20 L145.45,47.64 L145.83,48.53 L145.83,53.40 M144.30,47.20 L145.07,47.64 L145.45,48.53 L145.45,53.40 M140.09,47.20 L141.62,47.20 M140.09,53.40 L142.77,53.40 M144.30,53.40 L146.98,53.40 M149.28,49.86 L153.88,49.86 L153.88,48.97 L153.49,48.08 L153.11,47.64 L152.34,47.20 L151.20,47.20 L150.05,47.64 L149.28,48.53 L148.90,49.86 L148.90,50.74 L149.28,52.07 L150.05,52.96 L151.20,53.40 L151.96,53.40 L153.11,52.96 L153.88,52.07 M153.49,49.86 L153.49,48.53 L153.11,47.64 M151.20,47.20 L150.43,47.64 L149.66,48.53 L149.28,49.86 L149.28,50.74 L149.66,52.07 L150.43,52.96 L151.20,53.40 M163.07,44.10 L163.07,53.40 M163.45,44.10 L163.45,53.40 M163.45,48.53 L164.22,47.64 L164.99,47.20 L165.75,47.20 L166.90,47.64 L167.67,48.53 L168.05,49.86 L168.05,50.74 L167.67,52.07 L166.90,52.96 L165.75,53.40 L164.99,53.40 L164.22,52.96 L163.45,52.07 M165.75,47.20 L166.52,47.64 L167.28,48.53 L167.67,49.86 L167.67,50.74 L167.28,52.07 L166.52,52.96 L165.75,53.40 M161.92,44.10 L163.45,44.10 M171.11,48.08 L171.11,48.53 L170.73,48.53 L170.73,48.08 L171.11,47.64 L171.88,47.20 L173.41,47.20 L174.18,47.64 L174.56,48.08 L174.95,48.97 L174.95,52.07 L175.33,52.96 L175.71,53.40 M174.56,48.08 L174.56,52.07 L174.95,52.96 L175.71,53.40 L176.09,53.40 M174.56,48.97 L174.18,49.41 L171.88,49.86 L170.73,50.30 L170.35,51.19 L170.35,52.07 L170.73,52.96 L171.88,53.40 L173.03,53.40 L173.80,52.96 L174.56,52.07 M171.88,49.86 L171.11,50.30 L170.73,51.19 L170.73,52.07 L171.11,52.96 L171.88,53.40 M181.84,48.08 L182.22,47.20 L182.22,48.97 L181.84,48.08 L181.46,47.64 L180.69,47.20 L179.16,47.20 L178.39,47.64 L178.01,48.08 L178.01,48.97 L178.39,49.41 L179.16,49.86 L181.07,50.74 L181.84,51.19 L182.22,51.63 M178.01,48.53 L178.39,48.97 L179.16,49.41 L181.07,50.30 L181.84,50.74 L182.22,51.19 L182.22,52.51 L181.84,52.96 L181.07,53.40 L179.54,53.40 L178.78,52.96 L178.39,52.51 L178.01,51.63 L178.01,53.40 L178.39,52.51 M185.29,44.10 L184.91,44.54 L185.29,44.98 L185.67,44.54 L185.29,44.10 M185.29,47.20 L185.29,53.40 M185.67,47.20 L185.67,53.40 M184.14,47.20 L185.67,47.20 M184.14,53.40 L186.82,53.40 M192.57,48.08 L192.95,47.20 L192.95,48.97 L192.57,48.08 L192.18,47.64 L191.42,47.20 L189.89,47.20 L189.12,47.64 L188.74,48.08 L188.74,48.97 L189.12,49.41 L189.89,49.86 L191.80,50.74 L192.57,51.19 L192.95,51.63 M188.74,48.53 L189.12,48.97 L189.89,49.41 L191.80,50.30 L192.57,50.74 L192.95,51.19 L192.95,52.51 L192.57,52.96 L191.80,53.40 L190.27,53.40 L189.50,52.96 L189.12,52.51 L188.74,51.63 L188.74,53.40 L189.12,52.51" fill="none" stroke="#000" stroke-width="1.3" stroke-linecap="round" stroke-linejoin="round"/>
<path d="M96.79,57.00 L96.79,66.30 M97.18,57.00 L97.18,66.30 M101.75,57.00 L101.75,66.30 M102.13,57.00 L102.13,66.30 M95.65,57.00 L98.32,57.00 M100.61,57.00 L103.28,57.00 M97.18,61.43 L101.75,61.43 M95.65,66.30 L98.32,66.30 M100.61,66.30 L103.28,66.30 M105.57,62.76 L110.14,62.76 L110.14,61.87 L109.76,60.98 L109.38,60.54 L108.62,60.10 L107.47,60.10 L106.33,60.54 L105.57,61.43 L105.19,62.76 L105.19,63.64 L105.57,64.97 L106.33,65.86 L107.47,66.30 L108.24,66.30 L109.38,65.86 L110.14,64.97 M109.76,62.76 L109.76,61.43 L109.38,60.54 M107.47,60.10 L106.71,60.54 L105.95,61.43 L105.57,62.76 L105.57,63.64 L105.95,64.97 L106.71,65.86 L107.47,66.30 M113.20,57.00 L113.20,66.30 M113.58,57.00 L113.58,66.30 M112.05,57.00 L113.58,57.00 M112.05,66.30 L114.72,66.30 M117.39,57.00 L117.01,57.44 L117.39,57.88 L117.77,57.44 L117.39,57.00 M117.39,60.10 L117.39,66.30 M117.77,60.10 L117.77,66.30 M116.25,60.10 L117.77,60.10 M116.25,66.30 L118.92,66.30 M125.40,61.43 L125.02,61.87 L125.40,62.31 L125.78,61.87 L125.78,61.43 L125.02,60.54 L124.26,60.10 L123.11,60.10 L121.97,60.54 L121.20,61.43 L120.82,62.76 L120.82,63.64 L121.20,64.97 L121.97,65.86 L123.11,66.30 L123.87,66.30 L125.02,65.86 L125.78,64.97 M123.11,60.10 L122.35,60.54 L121.59,61.43 L121.20,62.76 L121.20,63.64 L121.59,64.97 L122.35,65.86 L123.11,66.30 M128.83,57.00 L128.45,57.44 L128.83,57.88 L129.21,57.44 L128.83,57.00 M128.83,60.10 L128.83,66.30 M129.21,60.10 L129.21,66.30 M127.69,60.10 L129.21,60.10 M127.69,66.30 L130.36,66.30 M133.03,57.00 L133.03,64.53 L133.41,65.86 L134.17,66.30 L134.94,66.30 L135.70,65.86 L136.08,64.97 M133.41,57.00 L133.41,64.53 L133.79,65.86 L134.17,66.30 M131.88,60.10 L134.94,60.10 M138.37,60.10 L140.66,66.30 M138.75,60.10 L140.66,65.41 M142.95,60.10 L140.66,66.30 L139.89,68.07 L139.13,68.96 L138.37,69.40 L137.99,69.40 L137.61,68.96 L137.99,68.52 L138.37,68.96 M137.61,60.10 L139.89,60.10 M141.42,60.10 L143.71,60.10 M152.10,57.00 L152.10,66.30 M152.48,57.00 L152.48,66.30 M152.48,61.43 L153.24,60.54 L154.01,60.10 L154.77,60.10 L155.91,60.54 L156.68,61.43 L157.06,62.76 L157.06,63.64 L156.68,64.97 L155.91,65.86 L154.77,66.30 L154.01,66.30 L153.24,65.86 L152.48,64.97 M154.77,60.10 L155.53,60.54 L156.30,61.43 L156.68,62.76 L156.68,63.64 L156.30,64.97 L155.53,65.86 L154.77,66.30 M150.96,57.00 L152.48,57.00 M160.11,60.98 L160.11,61.43 L159.73,61.43 L159.73,60.98 L160.11,60.54 L160.87,60.10 L162.40,60.10 L163.16,60.54 L163.54,60.98 L163.92,61.87 L163.92,64.97 L164.30,65.86 L164.69,66.30 M163.54,60.98 L163.54,64.97 L163.92,65.86 L164.69,66.30 L165.07,66.30 M163.54,61.87 L163.16,62.31 L160.87,62.76 L159.73,63.20 L159.35,64.08 L159.35,64.97 L159.73,65.86 L160.87,66.30 L162.02,66.30 L162.78,65.86 L163.54,64.97 M160.87,62.76 L160.11,63.20 L159.73,64.08 L159.73,64.97 L160.11,65.86 L160.87,66.30 M170.79,60.98 L171.17,60.10 L171.17,61.87 L170.79,60.98 L170.41,60.54 L169.64,60.10 L168.12,60.10 L167.36,60.54 L166.97,60.98 L166.97,61.87 L167.36,62.31 L168.12,62.76 L170.03,63.64 L170.79,64.08 L171.17,64.53 M166.97,61.43 L167.36,61.87 L168.12,62.31 L170.03,63.20 L170.79,63.64 L171.17,64.08 L171.17,65.41 L170.79,65.86 L170.03,66.30 L168.50,66.30 L167.74,65.86 L167.36,65.41 L166.97,64.53 L166.97,66.30 L167.36,65.41 M174.22,57.00 L173.84,57.44 L174.22,57.88 L174.60,57.44 L174.22,57.00 M174.22,60.10 L174.22,66.30 M174.60,60.10 L174.60,66.30 M173.08,60.10 L174.60,60.10 M173.08,66.30 L175.75,66.30 M181.47,60.98 L181.85,60.10 L181.85,61.87 L181.47,60.98 L181.09,60.54 L180.32,60.10 L178.80,60.10 L178.04,60.54 L177.65,60.98 L177.65,61.87 L178.04,62.31 L178.80,62.76 L180.71,63.64 L181.47,64.08 L181.85,64.53 M177.65,61.43 L178.04,61.87 L178.80,62.31 L180.71,63.20 L181.47,63.64 L181.85,64.08 L181.85,65.41 L181.47,65.86 L180.71,66.30 L179.18,66.30 L178.42,65.86 L178.04,65.41 L177.65,64.53 L177.65,66.30 L178.04,65.41" fill="none" stroke="#000" stroke-width="1.3" stroke-linecap="round" stroke-linejoin="round"/>
<path d="M49.13,13.75 L47.84,14.20 L46.98,15.10 L46.12,16.90 L45.69,18.25 L45.26,20.05 L44.83,22.75 L44.40,26.35 M49.13,13.75 L48.27,14.20 L47.41,15.10 L46.55,16.90 L46.12,18.25 L45.69,20.05 L45.26,22.75 L44.83,26.35 M49.13,13.75 L49.99,13.75 L50.85,14.20 L51.28,14.65 L51.28,16.00 L50.85,16.90 L50.42,17.35 L49.13,17.80 L47.41,17.80 M49.99,13.75 L50.85,14.65 L50.85,16.00 L50.42,16.90 L49.99,17.35 L49.13,17.80 M47.41,17.80 L49.13,18.25 L49.99,19.15 L50.42,20.05 L50.42,21.40 L49.99,22.30 L49.56,22.75 L48.27,23.20 L47.41,23.20 L46.55,22.75 L46.12,22.30 L45.69,20.95 M47.41,17.80 L48.70,18.25 L49.56,19.15 L49.99,20.05 L49.99,21.40 L49.56,22.30 L49.13,22.75 L48.27,23.20" fill="none" stroke="#000" stroke-width="1.4000000000000001" stroke-linecap="round" stroke-linejoin="round"/>
<path d="M56.63,20.94 L52.60,26.40 M56.94,20.94 L52.91,26.40 M52.91,20.94 L52.60,22.50 L52.60,20.94 L56.94,20.94 M52.60,26.40 L56.94,26.40 L56.94,24.84 L56.63,26.40" fill="none" stroke="#000" stroke-width="1.3" stroke-linecap="round" stroke-linejoin="round"/>
<path d="M66.55,16.90 L73.58,16.90 L73.58,17.35 M66.55,16.90 L66.55,17.35 L73.58,17.35 M66.55,20.50 L73.58,20.50 L73.58,20.95 M66.55,20.50 L66.55,20.95 L73.58,20.95 M85.58,13.75 L84.34,14.20 L83.51,15.55 L83.10,17.80 L83.10,19.15 L83.51,21.40 L84.34,22.75 L85.58,23.20 L86.41,23.20 L87.65,22.75 L88.48,21.40 L88.89,19.15 L88.89,17.80 L88.48,15.55 L87.65,14.20 L86.41,13.75 L85.58,13.75 M85.58,13.75 L84.75,14.20 L84.34,14.65 L83.93,15.55 L83.51,17.80 L83.51,19.15 L83.93,21.40 L84.34,22.30 L84.75,22.75 L85.58,23.20 M86.41,23.20 L87.24,22.75 L87.65,22.30 L88.06,21.40 L88.48,19.15 L88.48,17.80 L88.06,15.55 L87.65,14.65 L87.24,14.20 L86.41,13.75 M92.20,22.30 L91.79,22.75 L92.20,23.20 L92.61,22.75 L92.20,22.30 M96.75,15.55 L97.58,15.10 L98.82,13.75 L98.82,23.20 M98.41,14.20 L98.41,23.20 M96.75,23.20 L100.48,23.20 M105.03,15.55 L105.85,15.10 L107.10,13.75 L107.10,23.20 M106.68,14.20 L106.68,23.20 M105.03,23.20 L108.75,23.20" fill="none" stroke="#000" stroke-width="1.3" stroke-linecap="round" stroke-linejoin="round"/>
<path d="M49.13,221.75 L47.84,222.20 L46.98,223.10 L46.12,224.90 L45.69,226.25 L45.26,228.05 L44.83,230.75 L44.40,234.35 M49.13,221.75 L48.27,222.20 L47.41,223.10 L46.55,224.90 L46.12,226.25 L45.69,228.05 L45.26,230.75 L44.83,234.35 M49.13,221.75 L49.99,221.75 L50.85,222.20 L51.28,222.65 L51.28,224.00 L50.85,224.90 L50.42,225.35 L49.13,225.80 L47.41,225.80 M49.99,221.75 L50.85,222.65 L50.85,224.00 L50.42,224.90 L49.99,225.35 L49.13,225.80 M47.41,225.80 L49.13,226.25 L49.99,227.15 L50.42,228.05 L50.42,229.40 L49.99,230.30 L49.56,230.75 L48.27,231.20 L47.41,231.20 L46.55,230.75 L46.12,230.30 L45.69,228.95 M47.41,225.80 L48.70,226.25 L49.56,227.15 L49.99,228.05 L49.99,229.40 L49.56,230.30 L49.13,230.75 L48.27,231.20" fill="none" stroke="#000" stroke-width="1.4000000000000001" stroke-linecap="round" stroke-linejoin="round"/>
<path d="M56.63,228.94 L52.60,234.40 M56.94,228.94 L52.91,234.40 M52.91,228.94 L52.60,230.50 L52.60,228.94 L56.94,228.94 M52.60,234.40 L56.94,234.40 L56.94,232.84 L56.63,234.40" fill="none" stroke="#000" stroke-width="1.3" stroke-linecap="round" stroke-linejoin="round"/>
<path d="M66.55,224.90 L73.58,224.90 L73.58,225.35 M66.55,224.90 L66.55,225.35 L73.58,225.35 M66.55,228.50 L73.58,228.50 L73.58,228.95 M66.55,228.50 L66.55,228.95 L73.58,228.95 M85.58,221.75 L84.34,222.20 L83.51,223.55 L83.10,225.80 L83.10,227.15 L83.51,229.40 L84.34,230.75 L85.58,231.20 L86.41,231.20 L87.65,230.75 L88.48,229.40 L88.89,227.15 L88.89,225.80 L88.48,223.55 L87.65,222.20 L86.41,221.75 L85.58,221.75 M85.58,221.75 L84.75,222.20 L84.34,222.65 L83.93,223.55 L83.51,225.80 L83.51,227.15 L83.93,229.40 L84.34,230.30 L84.75,230.75 L85.58,231.20 M86.41,231.20 L87.24,230.75 L87.65,230.30 L88.06,229.40 L88.48,227.15 L88.48,225.80 L88.06,223.55 L87.65,222.65 L87.24,222.20 L86.41,221.75 M92.20,230.30 L91.79,230.75 L92.20,231.20 L92.61,230.75 L92.20,230.30 M96.34,221.75 L95.51,226.25 M95.51,226.25 L96.34,225.35 L97.58,224.90 L98.82,224.90 L100.06,225.35 L100.89,226.25 L101.30,227.60 L101.30,228.50 L100.89,229.85 L100.06,230.75 L98.82,231.20 L97.58,231.20 L96.34,230.75 L95.92,230.30 L95.51,229.40 L95.51,228.95 L95.92,228.50 L96.34,228.95 L95.92,229.40 M98.82,224.90 L99.65,225.35 L100.48,226.25 L100.89,227.60 L100.89,228.50 L100.48,229.85 L99.65,230.75 L98.82,231.20 M96.34,221.75 L100.48,221.75 M96.34,222.20 L98.41,222.20 L100.48,221.75 M109.16,224.90 L108.75,226.25 L107.92,227.15 L106.68,227.60 L106.27,227.60 L105.03,227.15 L104.20,226.25 L103.79,224.90 L103.79,224.45 L104.20,223.10 L105.03,222.20 L106.27,221.75 L107.10,221.75 L108.34,222.20 L109.16,223.10 L109.58,224.45 L109.58,227.15 L109.16,228.95 L108.75,229.85 L107.92,230.75 L106.68,231.20 L105.44,231.20 L104.61,230.75 L104.20,229.85 L104.20,229.40 L104.61,228.95 L105.03,229.40 L104.61,229.85 M106.27,227.60 L105.44,227.15 L104.61,226.25 L104.20,224.90 L104.20,224.45 L104.61,223.10 L105.44,222.20 L106.27,221.75 M107.10,221.75 L107.92,222.20 L108.75,223.10 L109.16,224.45 L109.16,227.15 L108.75,228.95 L108.34,229.85 L107.51,230.75 L106.68,231.20" fill="none" stroke="#000" stroke-width="1.3" stroke-linecap="round" stroke-linejoin="round"/>
<path d="M49.13,429.65 L47.84,430.10 L46.98,431.00 L46.12,432.80 L45.69,434.15 L45.26,435.95 L44.83,438.65 L44.40,442.25 M49.13,429.65 L48.27,430.10 L47.41,431.00 L46.55,432.80 L46.12,434.15 L45.69,435.95 L45.26,438.65 L44.83,442.25 M49.13,429.65 L49.99,429.65 L50.85,430.10 L51.28,430.55 L51.28,431.90 L50.85,432.80 L50.42,433.25 L49.13,433.70 L47.41,433.70 M49.99,429.65 L50.85,430.55 L50.85,431.90 L50.42,432.80 L49.99,433.25 L49.13,433.70 M47.41,433.70 L49.13,434.15 L49.99,435.05 L50.42,435.95 L50.42,437.30 L49.99,438.20 L49.56,438.65 L48.27,439.10 L47.41,439.10 L46.55,438.65 L46.12,438.20 L45.69,436.85 M47.41,433.70 L48.70,434.15 L49.56,435.05 L49.99,435.95 L49.99,437.30 L49.56,438.20 L49.13,438.65 L48.27,439.10" fill="none" stroke="#000" stroke-width="1.4000000000000001" stroke-linecap="round" stroke-linejoin="round"/>
<path d="M56.63,436.84 L52.60,442.30 M56.94,436.84 L52.91,442.30 M52.91,436.84 L52.60,438.40 L52.60,436.84 L56.94,436.84 M52.60,442.30 L56.94,442.30 L56.94,440.74 L56.63,442.30" fill="none" stroke="#000" stroke-width="1.3" stroke-linecap="round" stroke-linejoin="round"/>
<path d="M66.55,432.80 L73.58,432.80 L73.58,433.25 M66.55,432.80 L66.55,433.25 L73.58,433.25 M66.55,436.40 L73.58,436.40 L73.58,436.85 M66.55,436.40 L66.55,436.85 L73.58,436.85 M85.58,429.65 L84.34,430.10 L83.51,431.45 L83.10,433.70 L83.10,435.05 L83.51,437.30 L84.34,438.65 L85.58,439.10 L86.41,439.10 L87.65,438.65 L88.48,437.30 L88.89,435.05 L88.89,433.70 L88.48,431.45 L87.65,430.10 L86.41,429.65 L85.58,429.65 M85.58,429.65 L84.75,430.10 L84.34,430.55 L83.93,431.45 L83.51,433.70 L83.51,435.05 L83.93,437.30 L84.34,438.20 L84.75,438.65 L85.58,439.10 M86.41,439.10 L87.24,438.65 L87.65,438.20 L88.06,437.30 L88.48,435.05 L88.48,433.70 L88.06,431.45 L87.65,430.55 L87.24,430.10 L86.41,429.65 M92.20,438.20 L91.79,438.65 L92.20,439.10 L92.61,438.65 L92.20,438.20 M100.89,432.80 L100.48,434.15 L99.65,435.05 L98.41,435.50 L97.99,435.50 L96.75,435.05 L95.92,434.15 L95.51,432.80 L95.51,432.35 L95.92,431.00 L96.75,430.10 L97.99,429.65 L98.82,429.65 L100.06,430.10 L100.89,431.00 L101.30,432.35 L101.30,435.05 L100.89,436.85 L100.48,437.75 L99.65,438.65 L98.41,439.10 L97.17,439.10 L96.34,438.65 L95.92,437.75 L95.92,437.30 L96.34,436.85 L96.75,437.30 L96.34,437.75 M97.99,435.50 L97.17,435.05 L96.34,434.15 L95.92,432.80 L95.92,432.35 L96.34,431.00 L97.17,430.10 L97.99,429.65 M98.82,429.65 L99.65,430.10 L100.48,431.00 L100.89,432.35 L100.89,435.05 L100.48,436.85 L100.06,437.75 L99.23,438.65 L98.41,439.10 M104.20,431.45 L104.61,431.90 L104.20,432.35 L103.79,431.90 L103.79,431.45 L104.20,430.55 L104.61,430.10 L105.85,429.65 L107.51,429.65 L108.75,430.10 L109.16,430.55 L109.58,431.45 L109.58,432.35 L109.16,433.25 L107.92,434.15 L105.85,435.05 L105.03,435.50 L104.20,436.40 L103.79,437.75 L103.79,439.10 M107.51,429.65 L108.34,430.10 L108.75,430.55 L109.16,431.45 L109.16,432.35 L108.75,433.25 L107.51,434.15 L105.85,435.05 M103.79,438.20 L104.20,437.75 L105.03,437.75 L107.10,438.65 L108.34,438.65 L109.16,438.20 L109.58,437.75 M105.03,437.75 L107.10,439.10 L108.75,439.10 L109.16,438.65 L109.58,437.75 L109.58,436.85" fill="none" stroke="#000" stroke-width="1.3" stroke-linecap="round" stroke-linejoin="round"/>
<path d="M144.6,165.00 L146.2,164.40 L149.0,170.60 L152.6,158.50 L161.4,158.50" fill="none" stroke="#000" stroke-width="1.3" stroke-linejoin="round" stroke-linecap="round"/>
<path d="M158.00,165.20 L158.40,164.30 L158.40,166.10 L158.00,165.20 L157.60,164.75 L156.80,164.30 L155.20,164.30 L154.40,164.75 L154.00,165.20 L154.00,166.10 L154.40,166.55 L155.20,167.00 L157.20,167.90 L158.00,168.35 L158.40,168.80 M154.00,165.65 L154.40,166.10 L155.20,166.55 L157.20,167.45 L158.00,167.90 L158.40,168.35 L158.40,169.70 L158.00,170.15 L157.20,170.60 L155.60,170.60 L154.80,170.15 L154.40,169.70 L154.00,168.80 L154.00,170.60 L154.40,169.70" fill="none" stroke="#000" stroke-width="1.3" stroke-linecap="round" stroke-linejoin="round"/>
<path d="M169.55,164.30 L176.56,164.30 L176.56,164.75 M169.55,164.30 L169.55,164.75 L176.56,164.75 M169.55,167.90 L176.56,167.90 L176.56,168.35 M169.55,167.90 L169.55,168.35 L176.56,168.35 M186.46,162.95 L186.88,163.40 L186.46,163.85 L186.05,163.40 L186.05,162.95 L186.46,162.05 L186.88,161.60 L188.11,161.15 L189.76,161.15 L191.00,161.60 L191.41,162.05 L191.82,162.95 L191.82,163.85 L191.41,164.75 L190.18,165.65 L188.11,166.55 L187.29,167.00 L186.46,167.90 L186.05,169.25 L186.05,170.60 M189.76,161.15 L190.59,161.60 L191.00,162.05 L191.41,162.95 L191.41,163.85 L191.00,164.75 L189.76,165.65 L188.11,166.55 M186.05,169.70 L186.46,169.25 L187.29,169.25 L189.35,170.15 L190.59,170.15 L191.41,169.70 L191.82,169.25 M187.29,169.25 L189.35,170.60 L191.00,170.60 L191.41,170.15 L191.82,169.25 L191.82,168.35 M195.12,161.15 L194.30,165.65 M194.30,165.65 L195.12,164.75 L196.36,164.30 L197.60,164.30 L198.84,164.75 L199.66,165.65 L200.07,167.00 L200.07,167.90 L199.66,169.25 L198.84,170.15 L197.60,170.60 L196.36,170.60 L195.12,170.15 L194.71,169.70 L194.30,168.80 L194.30,168.35 L194.71,167.90 L195.12,168.35 L194.71,168.80 M197.60,164.30 L198.43,164.75 L199.25,165.65 L199.66,167.00 L199.66,167.90 L199.25,169.25 L198.43,170.15 L197.60,170.60 M195.12,161.15 L199.25,161.15 M195.12,161.60 L197.19,161.60 L199.25,161.15 M205.02,161.15 L203.79,161.60 L202.96,162.95 L202.55,165.20 L202.55,166.55 L202.96,168.80 L203.79,170.15 L205.02,170.60 L205.85,170.60 L207.09,170.15 L207.91,168.80 L208.32,166.55 L208.32,165.20 L207.91,162.95 L207.09,161.60 L205.85,161.15 L205.02,161.15 M205.02,161.15 L204.20,161.60 L203.79,162.05 L203.38,162.95 L202.96,165.20 L202.96,166.55 L203.38,168.80 L203.79,169.70 L204.20,170.15 L205.02,170.60 M205.85,170.60 L206.67,170.15 L207.09,169.70 L207.50,168.80 L207.91,166.55 L207.91,165.20 L207.50,162.95 L207.09,162.05 L206.67,161.60 L205.85,161.15 M223.17,162.50 L223.59,163.85 L223.59,161.15 L223.17,162.50 L222.35,161.60 L221.11,161.15 L220.29,161.15 L219.05,161.60 L218.22,162.50 L217.81,163.40 L217.40,164.75 L217.40,167.00 L217.81,168.35 L218.22,169.25 L219.05,170.15 L220.29,170.60 L221.11,170.60 L222.35,170.15 L223.17,169.25 M220.29,161.15 L219.46,161.60 L218.64,162.50 L218.22,163.40 L217.81,164.75 L217.81,167.00 L218.22,168.35 L218.64,169.25 L219.46,170.15 L220.29,170.60 M223.17,167.00 L223.17,170.60 M223.59,167.00 L223.59,170.60 M221.94,167.00 L224.82,167.00 M227.30,167.00 L232.25,167.00 L232.25,166.10 L231.84,165.20 L231.42,164.75 L230.60,164.30 L229.36,164.30 L228.12,164.75 L227.30,165.65 L226.89,167.00 L226.89,167.90 L227.30,169.25 L228.12,170.15 L229.36,170.60 L230.19,170.60 L231.42,170.15 L232.25,169.25 M231.84,167.00 L231.84,165.65 L231.42,164.75 M229.36,164.30 L228.54,164.75 L227.71,165.65 L227.30,167.00 L227.30,167.90 L227.71,169.25 L228.54,170.15 L229.36,170.60 M234.72,161.15 L237.61,170.60 M235.14,161.15 L237.61,169.25 M240.50,161.15 L237.61,170.60 M233.90,161.15 L236.38,161.15 M238.85,161.15 L241.32,161.15 M243.80,170.60 L243.39,170.15 L243.80,169.70 L244.21,170.15 L244.21,171.05 L243.80,171.95 L243.39,172.40 M254.52,164.30 L254.52,170.60 M254.94,164.30 L254.94,170.60 M254.94,165.65 L255.76,164.75 L257.00,164.30 L257.82,164.30 L259.06,164.75 L259.47,165.65 L259.47,170.60 M257.82,164.30 L258.65,164.75 L259.06,165.65 L259.06,170.60 M259.47,165.65 L260.30,164.75 L261.54,164.30 L262.36,164.30 L263.60,164.75 L264.01,165.65 L264.01,170.60 M262.36,164.30 L263.19,164.75 L263.60,165.65 L263.60,170.60 M253.29,164.30 L254.94,164.30 M253.29,170.60 L256.17,170.60 M257.82,170.60 L260.71,170.60 M262.36,170.60 L265.25,170.60" fill="none" stroke="#000" stroke-width="1.3" stroke-linecap="round" stroke-linejoin="round"/>
<path d="M267.08,168.66 L267.08,173.70 M267.34,168.66 L267.34,173.70 M267.34,171.06 L267.86,170.58 L268.64,170.34 L269.16,170.34 L269.94,170.58 L270.20,171.06 L270.20,173.70 M269.16,170.34 L269.68,170.58 L269.94,171.06 L269.94,173.70 M266.30,168.66 L267.34,168.66 M266.30,173.70 L268.12,173.70 M269.16,173.70 L270.98,173.70" fill="none" stroke="#000" stroke-width="1.3" stroke-linecap="round" stroke-linejoin="round"/>
<path d="M280.55,164.30 L287.50,164.30 L287.50,164.75 M280.55,164.30 L280.55,164.75 L287.50,164.75 M280.55,167.90 L287.50,167.90 L287.50,168.35 M280.55,167.90 L280.55,168.35 L287.50,168.35 M298.12,162.95 L298.94,162.50 L300.16,161.15 L300.16,170.60 M299.76,161.60 L299.76,170.60 M298.12,170.60 L301.80,170.60 M305.88,161.15 L305.07,165.65 M305.07,165.65 L305.88,164.75 L307.11,164.30 L308.34,164.30 L309.56,164.75 L310.38,165.65 L310.79,167.00 L310.79,167.90 L310.38,169.25 L309.56,170.15 L308.34,170.60 L307.11,170.60 L305.88,170.15 L305.48,169.70 L305.07,168.80 L305.07,168.35 L305.48,167.90 L305.88,168.35 L305.48,168.80 M308.34,164.30 L309.15,164.75 L309.97,165.65 L310.38,167.00 L310.38,167.90 L309.97,169.25 L309.15,170.15 L308.34,170.60 M305.88,161.15 L309.97,161.15 M305.88,161.60 L307.93,161.60 L309.97,161.15 M315.28,161.15 L314.06,161.60 L313.65,162.50 L313.65,163.85 L314.06,164.75 L315.28,165.20 L316.92,165.20 L318.14,164.75 L318.55,163.85 L318.55,162.50 L318.14,161.60 L316.92,161.15 L315.28,161.15 M315.28,161.15 L314.47,161.60 L314.06,162.50 L314.06,163.85 L314.47,164.75 L315.28,165.20 M316.92,165.20 L317.73,164.75 L318.14,163.85 L318.14,162.50 L317.73,161.60 L316.92,161.15 M315.28,165.20 L314.06,165.65 L313.65,166.10 L313.24,167.00 L313.24,168.80 L313.65,169.70 L314.06,170.15 L315.28,170.60 L316.92,170.60 L318.14,170.15 L318.55,169.70 L318.96,168.80 L318.96,167.00 L318.55,166.10 L318.14,165.65 L316.92,165.20 M315.28,165.20 L314.47,165.65 L314.06,166.10 L313.65,167.00 L313.65,168.80 L314.06,169.70 L314.47,170.15 L315.28,170.60 M316.92,170.60 L317.73,170.15 L318.14,169.70 L318.55,168.80 L318.55,167.00 L318.14,166.10 L317.73,165.65 L316.92,165.20 M333.67,162.50 L334.08,163.85 L334.08,161.15 L333.67,162.50 L332.85,161.60 L331.63,161.15 L330.81,161.15 L329.58,161.60 L328.77,162.50 L328.36,163.40 L327.95,164.75 L327.95,167.00 L328.36,168.35 L328.77,169.25 L329.58,170.15 L330.81,170.60 L331.63,170.60 L332.85,170.15 L333.67,169.25 M330.81,161.15 L329.99,161.60 L329.18,162.50 L328.77,163.40 L328.36,164.75 L328.36,167.00 L328.77,168.35 L329.18,169.25 L329.99,170.15 L330.81,170.60 M333.67,167.00 L333.67,170.60 M334.08,167.00 L334.08,170.60 M332.44,167.00 L335.31,167.00 M337.76,167.00 L342.66,167.00 L342.66,166.10 L342.25,165.20 L341.84,164.75 L341.03,164.30 L339.80,164.30 L338.57,164.75 L337.76,165.65 L337.35,167.00 L337.35,167.90 L337.76,169.25 L338.57,170.15 L339.80,170.60 L340.62,170.60 L341.84,170.15 L342.66,169.25 M342.25,167.00 L342.25,165.65 L341.84,164.75 M339.80,164.30 L338.98,164.75 L338.17,165.65 L337.76,167.00 L337.76,167.90 L338.17,169.25 L338.98,170.15 L339.80,170.60 M345.11,161.15 L347.97,170.60 M345.52,161.15 L347.97,169.25 M350.83,161.15 L347.97,170.60 M344.29,161.15 L346.75,161.15 M349.20,161.15 L351.65,161.15" fill="none" stroke="#000" stroke-width="1.3" stroke-linecap="round" stroke-linejoin="round"/>
<path d="M144.6,373.00 L146.2,372.40 L149.0,378.60 L152.6,366.50 L161.4,366.50" fill="none" stroke="#000" stroke-width="1.3" stroke-linejoin="round" stroke-linecap="round"/>
<path d="M158.00,373.20 L158.40,372.30 L158.40,374.10 L158.00,373.20 L157.60,372.75 L156.80,372.30 L155.20,372.30 L154.40,372.75 L154.00,373.20 L154.00,374.10 L154.40,374.55 L155.20,375.00 L157.20,375.90 L158.00,376.35 L158.40,376.80 M154.00,373.65 L154.40,374.10 L155.20,374.55 L157.20,375.45 L158.00,375.90 L158.40,376.35 L158.40,377.70 L158.00,378.15 L157.20,378.60 L155.60,378.60 L154.80,378.15 L154.40,377.70 L154.00,376.80 L154.00,378.60 L154.40,377.70" fill="none" stroke="#000" stroke-width="1.3" stroke-linecap="round" stroke-linejoin="round"/>
<path d="M169.55,372.30 L176.56,372.30 L176.56,372.75 M169.55,372.30 L169.55,372.75 L176.56,372.75 M169.55,375.90 L176.56,375.90 L176.56,376.35 M169.55,375.90 L169.55,376.35 L176.56,376.35 M186.46,370.95 L186.88,371.40 L186.46,371.85 L186.05,371.40 L186.05,370.95 L186.46,370.05 L186.88,369.60 L188.11,369.15 L189.76,369.15 L191.00,369.60 L191.41,370.05 L191.82,370.95 L191.82,371.85 L191.41,372.75 L190.18,373.65 L188.11,374.55 L187.29,375.00 L186.46,375.90 L186.05,377.25 L186.05,378.60 M189.76,369.15 L190.59,369.60 L191.00,370.05 L191.41,370.95 L191.41,371.85 L191.00,372.75 L189.76,373.65 L188.11,374.55 M186.05,377.70 L186.46,377.25 L187.29,377.25 L189.35,378.15 L190.59,378.15 L191.41,377.70 L191.82,377.25 M187.29,377.25 L189.35,378.60 L191.00,378.60 L191.41,378.15 L191.82,377.25 L191.82,376.35 M195.12,369.15 L194.30,373.65 M194.30,373.65 L195.12,372.75 L196.36,372.30 L197.60,372.30 L198.84,372.75 L199.66,373.65 L200.07,375.00 L200.07,375.90 L199.66,377.25 L198.84,378.15 L197.60,378.60 L196.36,378.60 L195.12,378.15 L194.71,377.70 L194.30,376.80 L194.30,376.35 L194.71,375.90 L195.12,376.35 L194.71,376.80 M197.60,372.30 L198.43,372.75 L199.25,373.65 L199.66,375.00 L199.66,375.90 L199.25,377.25 L198.43,378.15 L197.60,378.60 M195.12,369.15 L199.25,369.15 M195.12,369.60 L197.19,369.60 L199.25,369.15 M205.02,369.15 L203.79,369.60 L202.96,370.95 L202.55,373.20 L202.55,374.55 L202.96,376.80 L203.79,378.15 L205.02,378.60 L205.85,378.60 L207.09,378.15 L207.91,376.80 L208.32,374.55 L208.32,373.20 L207.91,370.95 L207.09,369.60 L205.85,369.15 L205.02,369.15 M205.02,369.15 L204.20,369.60 L203.79,370.05 L203.38,370.95 L202.96,373.20 L202.96,374.55 L203.38,376.80 L203.79,377.70 L204.20,378.15 L205.02,378.60 M205.85,378.60 L206.67,378.15 L207.09,377.70 L207.50,376.80 L207.91,374.55 L207.91,373.20 L207.50,370.95 L207.09,370.05 L206.67,369.60 L205.85,369.15 M223.17,370.50 L223.59,371.85 L223.59,369.15 L223.17,370.50 L222.35,369.60 L221.11,369.15 L220.29,369.15 L219.05,369.60 L218.22,370.50 L217.81,371.40 L217.40,372.75 L217.40,375.00 L217.81,376.35 L218.22,377.25 L219.05,378.15 L220.29,378.60 L221.11,378.60 L222.35,378.15 L223.17,377.25 M220.29,369.15 L219.46,369.60 L218.64,370.50 L218.22,371.40 L217.81,372.75 L217.81,375.00 L218.22,376.35 L218.64,377.25 L219.46,378.15 L220.29,378.60 M223.17,375.00 L223.17,378.60 M223.59,375.00 L223.59,378.60 M221.94,375.00 L224.82,375.00 M227.30,375.00 L232.25,375.00 L232.25,374.10 L231.84,373.20 L231.42,372.75 L230.60,372.30 L229.36,372.30 L228.12,372.75 L227.30,373.65 L226.89,375.00 L226.89,375.90 L227.30,377.25 L228.12,378.15 L229.36,378.60 L230.19,378.60 L231.42,378.15 L232.25,377.25 M231.84,375.00 L231.84,373.65 L231.42,372.75 M229.36,372.30 L228.54,372.75 L227.71,373.65 L227.30,375.00 L227.30,375.90 L227.71,377.25 L228.54,378.15 L229.36,378.60 M234.72,369.15 L237.61,378.60 M235.14,369.15 L237.61,377.25 M240.50,369.15 L237.61,378.60 M233.90,369.15 L236.38,369.15 M238.85,369.15 L241.32,369.15 M243.80,378.60 L243.39,378.15 L243.80,377.70 L244.21,378.15 L244.21,379.05 L243.80,379.95 L243.39,380.40 M254.52,372.30 L254.52,378.60 M254.94,372.30 L254.94,378.60 M254.94,373.65 L255.76,372.75 L257.00,372.30 L257.82,372.30 L259.06,372.75 L259.47,373.65 L259.47,378.60 M257.82,372.30 L258.65,372.75 L259.06,373.65 L259.06,378.60 M259.47,373.65 L260.30,372.75 L261.54,372.30 L262.36,372.30 L263.60,372.75 L264.01,373.65 L264.01,378.60 M262.36,372.30 L263.19,372.75 L263.60,373.65 L263.60,378.60 M253.29,372.30 L254.94,372.30 M253.29,378.60 L256.17,378.60 M257.82,378.60 L260.71,378.60 M262.36,378.60 L265.25,378.60" fill="none" stroke="#000" stroke-width="1.3" stroke-linecap="round" stroke-linejoin="round"/>
<path d="M267.08,376.66 L267.08,381.70 M267.34,376.66 L267.34,381.70 M267.34,379.06 L267.86,378.58 L268.64,378.34 L269.16,378.34 L269.94,378.58 L270.20,379.06 L270.20,381.70 M269.16,378.34 L269.68,378.58 L269.94,379.06 L269.94,381.70 M266.30,376.66 L267.34,376.66 M266.30,381.70 L268.12,381.70 M269.16,381.70 L270.98,381.70" fill="none" stroke="#000" stroke-width="1.3" stroke-linecap="round" stroke-linejoin="round"/>
<path d="M280.55,372.30 L287.50,372.30 L287.50,372.75 M280.55,372.30 L280.55,372.75 L287.50,372.75 M280.55,375.90 L287.50,375.90 L287.50,376.35 M280.55,375.90 L280.55,376.35 L287.50,376.35 M298.12,370.95 L298.94,370.50 L300.16,369.15 L300.16,378.60 M299.76,369.60 L299.76,378.60 M298.12,378.60 L301.80,378.60 M305.48,370.95 L305.88,371.40 L305.48,371.85 L305.07,371.40 L305.07,370.95 L305.48,370.05 L305.88,369.60 L307.11,369.15 L308.74,369.15 L309.97,369.60 L310.38,370.05 L310.79,370.95 L310.79,371.85 L310.38,372.75 L309.15,373.65 L307.11,374.55 L306.29,375.00 L305.48,375.90 L305.07,377.25 L305.07,378.60 M308.74,369.15 L309.56,369.60 L309.97,370.05 L310.38,370.95 L310.38,371.85 L309.97,372.75 L308.74,373.65 L307.11,374.55 M305.07,377.70 L305.48,377.25 L306.29,377.25 L308.34,378.15 L309.56,378.15 L310.38,377.70 L310.79,377.25 M306.29,377.25 L308.34,378.60 L309.97,378.60 L310.38,378.15 L310.79,377.25 L310.79,376.35 M315.69,369.15 L314.47,369.60 L313.65,370.95 L313.24,373.20 L313.24,374.55 L313.65,376.80 L314.47,378.15 L315.69,378.60 L316.51,378.60 L317.73,378.15 L318.55,376.80 L318.96,374.55 L318.96,373.20 L318.55,370.95 L317.73,369.60 L316.51,369.15 L315.69,369.15 M315.69,369.15 L314.87,369.60 L314.47,370.05 L314.06,370.95 L313.65,373.20 L313.65,374.55 L314.06,376.80 L314.47,377.70 L314.87,378.15 L315.69,378.60 M316.51,378.60 L317.33,378.15 L317.73,377.70 L318.14,376.80 L318.55,374.55 L318.55,373.20 L318.14,370.95 L317.73,370.05 L317.33,369.60 L316.51,369.15 M333.67,370.50 L334.08,371.85 L334.08,369.15 L333.67,370.50 L332.85,369.60 L331.63,369.15 L330.81,369.15 L329.58,369.60 L328.77,370.50 L328.36,371.40 L327.95,372.75 L327.95,375.00 L328.36,376.35 L328.77,377.25 L329.58,378.15 L330.81,378.60 L331.63,378.60 L332.85,378.15 L333.67,377.25 M330.81,369.15 L329.99,369.60 L329.18,370.50 L328.77,371.40 L328.36,372.75 L328.36,375.00 L328.77,376.35 L329.18,377.25 L329.99,378.15 L330.81,378.60 M333.67,375.00 L333.67,378.60 M334.08,375.00 L334.08,378.60 M332.44,375.00 L335.31,375.00 M337.76,375.00 L342.66,375.00 L342.66,374.10 L342.25,373.20 L341.84,372.75 L341.03,372.30 L339.80,372.30 L338.57,372.75 L337.76,373.65 L337.35,375.00 L337.35,375.90 L337.76,377.25 L338.57,378.15 L339.80,378.60 L340.62,378.60 L341.84,378.15 L342.66,377.25 M342.25,375.00 L342.25,373.65 L341.84,372.75 M339.80,372.30 L338.98,372.75 L338.17,373.65 L337.76,375.00 L337.76,375.90 L338.17,377.25 L338.98,378.15 L339.80,378.60 M345.11,369.15 L347.97,378.60 M345.52,369.15 L347.97,377.25 M350.83,369.15 L347.97,378.60 M344.29,369.15 L346.75,369.15 M349.20,369.15 L351.65,369.15" fill="none" stroke="#000" stroke-width="1.3" stroke-linecap="round" stroke-linejoin="round"/>
<path d="M144.6,580.90 L146.2,580.30 L149.0,586.50 L152.6,574.40 L161.4,574.40" fill="none" stroke="#000" stroke-width="1.3" stroke-linejoin="round" stroke-linecap="round"/>
<path d="M158.00,581.10 L158.40,580.20 L158.40,582.00 L158.00,581.10 L157.60,580.65 L156.80,580.20 L155.20,580.20 L154.40,580.65 L154.00,581.10 L154.00,582.00 L154.40,582.45 L155.20,582.90 L157.20,583.80 L158.00,584.25 L158.40,584.70 M154.00,581.55 L154.40,582.00 L155.20,582.45 L157.20,583.35 L158.00,583.80 L158.40,584.25 L158.40,585.60 L158.00,586.05 L157.20,586.50 L155.60,586.50 L154.80,586.05 L154.40,585.60 L154.00,584.70 L154.00,586.50 L154.40,585.60" fill="none" stroke="#000" stroke-width="1.3" stroke-linecap="round" stroke-linejoin="round"/>
<path d="M169.55,580.20 L176.56,580.20 L176.56,580.65 M169.55,580.20 L169.55,580.65 L176.56,580.65 M169.55,583.80 L176.56,583.80 L176.56,584.25 M169.55,583.80 L169.55,584.25 L176.56,584.25 M186.88,577.05 L186.05,581.55 M186.05,581.55 L186.88,580.65 L188.11,580.20 L189.35,580.20 L190.59,580.65 L191.41,581.55 L191.82,582.90 L191.82,583.80 L191.41,585.15 L190.59,586.05 L189.35,586.50 L188.11,586.50 L186.88,586.05 L186.46,585.60 L186.05,584.70 L186.05,584.25 L186.46,583.80 L186.88,584.25 L186.46,584.70 M189.35,580.20 L190.18,580.65 L191.00,581.55 L191.41,582.90 L191.41,583.80 L191.00,585.15 L190.18,586.05 L189.35,586.50 M186.88,577.05 L191.00,577.05 M186.88,577.50 L188.94,577.50 L191.00,577.05 M196.78,577.05 L195.54,577.50 L194.71,578.85 L194.30,581.10 L194.30,582.45 L194.71,584.70 L195.54,586.05 L196.78,586.50 L197.60,586.50 L198.84,586.05 L199.66,584.70 L200.07,582.45 L200.07,581.10 L199.66,578.85 L198.84,577.50 L197.60,577.05 L196.78,577.05 M196.78,577.05 L195.95,577.50 L195.54,577.95 L195.12,578.85 L194.71,581.10 L194.71,582.45 L195.12,584.70 L195.54,585.60 L195.95,586.05 L196.78,586.50 M197.60,586.50 L198.43,586.05 L198.84,585.60 L199.25,584.70 L199.66,582.45 L199.66,581.10 L199.25,578.85 L198.84,577.95 L198.43,577.50 L197.60,577.05 M205.02,577.05 L203.79,577.50 L202.96,578.85 L202.55,581.10 L202.55,582.45 L202.96,584.70 L203.79,586.05 L205.02,586.50 L205.85,586.50 L207.09,586.05 L207.91,584.70 L208.32,582.45 L208.32,581.10 L207.91,578.85 L207.09,577.50 L205.85,577.05 L205.02,577.05 M205.02,577.05 L204.20,577.50 L203.79,577.95 L203.38,578.85 L202.96,581.10 L202.96,582.45 L203.38,584.70 L203.79,585.60 L204.20,586.05 L205.02,586.50 M205.85,586.50 L206.67,586.05 L207.09,585.60 L207.50,584.70 L207.91,582.45 L207.91,581.10 L207.50,578.85 L207.09,577.95 L206.67,577.50 L205.85,577.05 M223.17,578.40 L223.59,579.75 L223.59,577.05 L223.17,578.40 L222.35,577.50 L221.11,577.05 L220.29,577.05 L219.05,577.50 L218.22,578.40 L217.81,579.30 L217.40,580.65 L217.40,582.90 L217.81,584.25 L218.22,585.15 L219.05,586.05 L220.29,586.50 L221.11,586.50 L222.35,586.05 L223.17,585.15 M220.29,577.05 L219.46,577.50 L218.64,578.40 L218.22,579.30 L217.81,580.65 L217.81,582.90 L218.22,584.25 L218.64,585.15 L219.46,586.05 L220.29,586.50 M223.17,582.90 L223.17,586.50 M223.59,582.90 L223.59,586.50 M221.94,582.90 L224.82,582.90 M227.30,582.90 L232.25,582.90 L232.25,582.00 L231.84,581.10 L231.42,580.65 L230.60,580.20 L229.36,580.20 L228.12,580.65 L227.30,581.55 L226.89,582.90 L226.89,583.80 L227.30,585.15 L228.12,586.05 L229.36,586.50 L230.19,586.50 L231.42,586.05 L232.25,585.15 M231.84,582.90 L231.84,581.55 L231.42,580.65 M229.36,580.20 L228.54,580.65 L227.71,581.55 L227.30,582.90 L227.30,583.80 L227.71,585.15 L228.54,586.05 L229.36,586.50 M234.72,577.05 L237.61,586.50 M235.14,577.05 L237.61,585.15 M240.50,577.05 L237.61,586.50 M233.90,577.05 L236.38,577.05 M238.85,577.05 L241.32,577.05 M243.80,586.50 L243.39,586.05 L243.80,585.60 L244.21,586.05 L244.21,586.95 L243.80,587.85 L243.39,588.30 M254.52,580.20 L254.52,586.50 M254.94,580.20 L254.94,586.50 M254.94,581.55 L255.76,580.65 L257.00,580.20 L257.82,580.20 L259.06,580.65 L259.47,581.55 L259.47,586.50 M257.82,580.20 L258.65,580.65 L259.06,581.55 L259.06,586.50 M259.47,581.55 L260.30,580.65 L261.54,580.20 L262.36,580.20 L263.60,580.65 L264.01,581.55 L264.01,586.50 M262.36,580.20 L263.19,580.65 L263.60,581.55 L263.60,586.50 M253.29,580.20 L254.94,580.20 M253.29,586.50 L256.17,586.50 M257.82,586.50 L260.71,586.50 M262.36,586.50 L265.25,586.50" fill="none" stroke="#000" stroke-width="1.3" stroke-linecap="round" stroke-linejoin="round"/>
<path d="M267.08,584.56 L267.08,589.60 M267.34,584.56 L267.34,589.60 M267.34,586.96 L267.86,586.48 L268.64,586.24 L269.16,586.24 L269.94,586.48 L270.20,586.96 L270.20,589.60 M269.16,586.24 L269.68,586.48 L269.94,586.96 L269.94,589.60 M266.30,584.56 L267.34,584.56 M266.30,589.60 L268.12,589.60 M269.16,589.60 L270.98,589.60" fill="none" stroke="#000" stroke-width="1.3" stroke-linecap="round" stroke-linejoin="round"/>
<path d="M280.55,580.20 L287.50,580.20 L287.50,580.65 M280.55,580.20 L280.55,580.65 L287.50,580.65 M280.55,583.80 L287.50,583.80 L287.50,584.25 M280.55,583.80 L280.55,584.25 L287.50,584.25 M298.12,578.85 L298.94,578.40 L300.16,577.05 L300.16,586.50 M299.76,577.50 L299.76,586.50 M298.12,586.50 L301.80,586.50 M305.88,577.05 L305.07,581.55 M305.07,581.55 L305.88,580.65 L307.11,580.20 L308.34,580.20 L309.56,580.65 L310.38,581.55 L310.79,582.90 L310.79,583.80 L310.38,585.15 L309.56,586.05 L308.34,586.50 L307.11,586.50 L305.88,586.05 L305.48,585.60 L305.07,584.70 L305.07,584.25 L305.48,583.80 L305.88,584.25 L305.48,584.70 M308.34,580.20 L309.15,580.65 L309.97,581.55 L310.38,582.90 L310.38,583.80 L309.97,585.15 L309.15,586.05 L308.34,586.50 M305.88,577.05 L309.97,577.05 M305.88,577.50 L307.93,577.50 L309.97,577.05 M315.69,577.05 L314.47,577.50 L313.65,578.85 L313.24,581.10 L313.24,582.45 L313.65,584.70 L314.47,586.05 L315.69,586.50 L316.51,586.50 L317.73,586.05 L318.55,584.70 L318.96,582.45 L318.96,581.10 L318.55,578.85 L317.73,577.50 L316.51,577.05 L315.69,577.05 M315.69,577.05 L314.87,577.50 L314.47,577.95 L314.06,578.85 L313.65,581.10 L313.65,582.45 L314.06,584.70 L314.47,585.60 L314.87,586.05 L315.69,586.50 M316.51,586.50 L317.33,586.05 L317.73,585.60 L318.14,584.70 L318.55,582.45 L318.55,581.10 L318.14,578.85 L317.73,577.95 L317.33,577.50 L316.51,577.05 M333.67,578.40 L334.08,579.75 L334.08,577.05 L333.67,578.40 L332.85,577.50 L331.63,577.05 L330.81,577.05 L329.58,577.50 L328.77,578.40 L328.36,579.30 L327.95,580.65 L327.95,582.90 L328.36,584.25 L328.77,585.15 L329.58,586.05 L330.81,586.50 L331.63,586.50 L332.85,586.05 L333.67,585.15 M330.81,577.05 L329.99,577.50 L329.18,578.40 L328.77,579.30 L328.36,580.65 L328.36,582.90 L328.77,584.25 L329.18,585.15 L329.99,586.05 L330.81,586.50 M333.67,582.90 L333.67,586.50 M334.08,582.90 L334.08,586.50 M332.44,582.90 L335.31,582.90 M337.76,582.90 L342.66,582.90 L342.66,582.00 L342.25,581.10 L341.84,580.65 L341.03,580.20 L339.80,580.20 L338.57,580.65 L337.76,581.55 L337.35,582.90 L337.35,583.80 L337.76,585.15 L338.57,586.05 L339.80,586.50 L340.62,586.50 L341.84,586.05 L342.66,585.15 M342.25,582.90 L342.25,581.55 L341.84,580.65 M339.80,580.20 L338.98,580.65 L338.17,581.55 L337.76,582.90 L337.76,583.80 L338.17,585.15 L338.98,586.05 L339.80,586.50 M345.11,577.05 L347.97,586.50 M345.52,577.05 L347.97,585.15 M350.83,577.05 L347.97,586.50 M344.29,577.05 L346.75,577.05 M349.20,577.05 L351.65,577.05" fill="none" stroke="#000" stroke-width="1.3" stroke-linecap="round" stroke-linejoin="round"/>
<path d="M177.75,664.25 L177.23,664.80 L177.75,665.35 L178.27,664.80 L178.27,664.25 L177.23,663.15 L176.20,662.60 L174.64,662.60 L173.08,663.15 L172.04,664.25 L171.53,665.90 L171.53,667.00 L172.04,668.65 L173.08,669.75 L174.64,670.30 L175.68,670.30 L177.23,669.75 L178.27,668.65 M174.64,662.60 L173.60,663.15 L172.56,664.25 L172.04,665.90 L172.04,667.00 L172.56,668.65 L173.60,669.75 L174.64,670.30 M184.50,662.60 L182.94,663.15 L181.91,664.25 L181.39,665.90 L181.39,667.00 L181.91,668.65 L182.94,669.75 L184.50,670.30 L185.54,670.30 L187.09,669.75 L188.13,668.65 L188.65,667.00 L188.65,665.90 L188.13,664.25 L187.09,663.15 L185.54,662.60 L184.50,662.60 M184.50,662.60 L183.46,663.15 L182.42,664.25 L181.91,665.90 L181.91,667.00 L182.42,668.65 L183.46,669.75 L184.50,670.30 M185.54,670.30 L186.58,669.75 L187.61,668.65 L188.13,667.00 L188.13,665.90 L187.61,664.25 L186.58,663.15 L185.54,662.60 M196.96,663.70 L197.48,662.60 L197.48,664.80 L196.96,663.70 L196.44,663.15 L195.40,662.60 L193.32,662.60 L192.28,663.15 L191.77,663.70 L191.77,664.80 L192.28,665.35 L193.32,665.90 L195.92,667.00 L196.96,667.55 L197.48,668.10 M191.77,664.25 L192.28,664.80 L193.32,665.35 L195.92,666.45 L196.96,667.00 L197.48,667.55 L197.48,669.20 L196.96,669.75 L195.92,670.30 L193.84,670.30 L192.80,669.75 L192.28,669.20 L191.77,668.10 L191.77,670.30 L192.28,669.20" fill="none" stroke="#000" stroke-width="1.25" stroke-linecap="round" stroke-linejoin="round"/>
<path d="M212.15,658.75 L210.59,659.30 L209.56,660.95 L209.04,662.05 L208.52,663.70 L208.00,666.45 L208.00,668.65 L208.52,669.75 L209.56,670.30 L210.59,670.30 L212.15,669.75 L213.19,668.10 L213.71,667.00 L214.23,665.35 L214.75,662.60 L214.75,660.40 L214.23,659.30 L213.19,658.75 L212.15,658.75 M212.15,658.75 L211.11,659.30 L210.08,660.95 L209.56,662.05 L209.04,663.70 L208.52,666.45 L208.52,668.65 L209.04,669.75 L209.56,670.30 M210.59,670.30 L211.63,669.75 L212.67,668.10 L213.19,667.00 L213.71,665.35 L214.23,662.60 L214.23,660.40 L213.71,659.30 L213.19,658.75 M209.04,664.25 L213.71,664.25" fill="none" stroke="#000" stroke-width="1.25" stroke-linecap="round" stroke-linejoin="round"/>
<path d="M220.45,657.85 L220.45,664.45 M217.60,659.50 L223.31,662.80 M223.31,659.50 L217.60,662.80" fill="none" stroke="#000" stroke-width="1.4" stroke-linecap="round" stroke-linejoin="round"/>
</svg>
</body></html>
